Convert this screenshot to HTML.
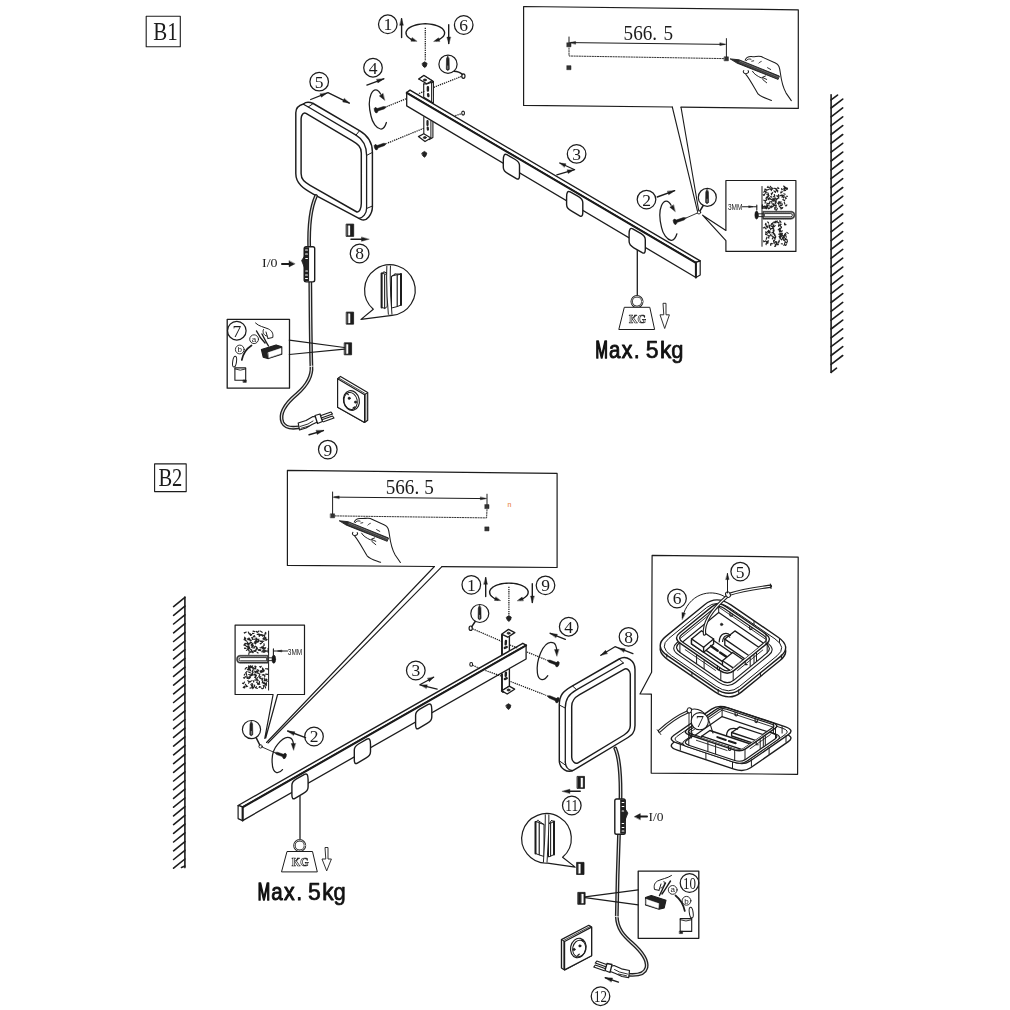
<!DOCTYPE html>
<html><head><meta charset="utf-8"><title>Assembly B1 B2</title>
<style>html,body{margin:0;padding:0;background:#fff;}body{width:1010px;height:1010px;overflow:hidden;font-family:"Liberation Sans",sans-serif;}svg{display:block;}</style>
</head><body>
<svg width="1010" height="1010" viewBox="0 0 1010 1010" stroke-linecap="round" stroke-linejoin="round">
<defs><filter id="gs" filterUnits="userSpaceOnUse" x="0" y="0" width="1010" height="1010"><feColorMatrix type="saturate" values="0"/></filter></defs>
<rect x="0" y="0" width="1010" height="1010" fill="#ffffff"/>
<!-- labels -->
<rect x="146.2" y="16.2" width="34.1" height="30.5" fill="none" stroke="#1c1c1c" stroke-width="1.1"/>
<rect x="154.6" y="463.9" width="31.6" height="27.7" fill="none" stroke="#1c1c1c" stroke-width="1.1"/>
<!-- walls -->
<line x1="831.1" y1="94.7" x2="831.1" y2="372.5" stroke="#1c1c1c" stroke-width="1.6" />
<path d="M831.1 99.9 L837.5 95.1 M831.1 108 L842.7 99.1 M831.1 116.8 L842.7 107.9 M831.1 125.7 L842.7 116.8 M831.1 134.5 L842.7 125.6 M831.1 143.4 L842.7 134.5 M831.1 152.2 L842.7 143.3 M831.1 161 L842.7 152.1 M831.1 169.9 L842.7 161 M831.1 178.7 L842.7 169.8 M831.1 187.6 L842.7 178.7 M831.1 196.4 L842.7 187.5 M831.1 205.2 L842.7 196.3 M831.1 214.1 L842.7 205.2 M831.1 222.9 L842.7 214 M831.1 231.8 L842.7 222.9 M831.1 240.6 L842.7 231.7 M831.1 249.4 L842.7 240.5 M831.1 258.3 L842.7 249.4 M831.1 267.1 L842.7 258.2 M831.1 276 L842.7 267.1 M831.1 284.8 L842.7 275.9 M831.1 293.6 L842.7 284.7 M831.1 302.5 L842.7 293.6 M831.1 311.3 L842.7 302.4 M831.1 320.2 L842.7 311.3 M831.1 329 L842.7 320.1 M831.1 337.8 L842.7 328.9 M831.1 346.7 L842.7 337.8 M831.1 355.5 L842.7 346.6 M831.1 364.4 L842.7 355.5 M831.1 372.3 L836.5 368.2" fill="none" stroke="#1c1c1c" stroke-width="1.6" />
<line x1="184.9" y1="597.1" x2="184.9" y2="867.6" stroke="#1c1c1c" stroke-width="1.6" />
<path d="M184.9 597.4 L173.6 606.6 M184.9 606.1 L173.6 615.3 M184.9 614.8 L173.6 624 M184.9 623.6 L173.6 632.8 M184.9 632.3 L173.6 641.5 M184.9 641 L173.6 650.2 M184.9 649.7 L173.6 658.9 M184.9 658.4 L173.6 667.6 M184.9 667.2 L173.6 676.4 M184.9 675.9 L173.6 685.1 M184.9 684.6 L173.6 693.8 M184.9 693.3 L173.6 702.5 M184.9 702 L173.6 711.2 M184.9 710.8 L173.6 720 M184.9 719.5 L173.6 728.7 M184.9 728.2 L173.6 737.4 M184.9 736.9 L173.6 746.1 M184.9 745.6 L173.6 754.8 M184.9 754.4 L173.6 763.6 M184.9 763.1 L173.6 772.3 M184.9 771.8 L173.6 781 M184.9 780.5 L173.6 789.7 M184.9 789.2 L173.6 798.4 M184.9 798 L173.6 807.2 M184.9 806.7 L173.6 815.9 M184.9 815.4 L173.6 824.6 M184.9 824.1 L173.6 833.3 M184.9 832.8 L173.6 842 M184.9 841.6 L173.6 850.8 M184.9 850.3 L173.6 859.5 M184.9 859 L173.6 868.2 M184.9 866 L181.5 867.4" fill="none" stroke="#1c1c1c" stroke-width="1.6" />
<!-- callout B1 -->
<path d="M672.3 107 L523.6 105.4 L523.6 6.5 L798.3 9.8 L798.3 108.4 L681 107.2" fill="none" stroke="#1c1c1c" stroke-width="1.2" />
<path d="M672.3 107 L697.4 210.9" fill="none" stroke="#1c1c1c" stroke-width="1.1" />
<path d="M681 107.2 L698.6 210" fill="none" stroke="#1c1c1c" stroke-width="1.1" />
<line x1="569" y1="37" x2="569" y2="46" stroke="#1c1c1c" stroke-width="1.0" />
<line x1="726.4" y1="38.6" x2="726.4" y2="57" stroke="#1c1c1c" stroke-width="1.0" />
<line x1="571" y1="42.6" x2="724.4" y2="44.4" stroke="#1c1c1c" stroke-width="1.0" />
<path d="M569.6 42.6 L575.6 41.4 L575.6 44 Z" fill="#1c1c1c" stroke="#1c1c1c" stroke-width="0.4"/>
<path d="M725.8 44.4 L719.8 45.6 L719.8 43 Z" fill="#1c1c1c" stroke="#1c1c1c" stroke-width="0.4"/>
<rect x="567" y="42.8" width="4" height="4" fill="#333" stroke="#1c1c1c" stroke-width="0.5"/>
<rect x="567" y="65.7" width="4" height="4" fill="#333" stroke="#1c1c1c" stroke-width="0.5"/>
<rect x="724.4" y="56.8" width="4" height="4" fill="#333" stroke="#1c1c1c" stroke-width="0.5"/>
<path d="M569 48 L569 56 L724 58.6" fill="none" stroke="#1c1c1c" stroke-width="0.9" stroke-dasharray="1.3 1.3"/>
<!-- callout B2 -->
<path d="M434.4 566.5 L287.4 565.4 L287.4 470.4 L557.1 473.4 L557.1 567.5 L441.9 566.6" fill="none" stroke="#1c1c1c" stroke-width="1.2" />
<path d="M434.4 566.5 L266.5 742.5" fill="none" stroke="#1c1c1c" stroke-width="1.1" />
<path d="M441.9 566.6 L268 743" fill="none" stroke="#1c1c1c" stroke-width="1.1" />
<line x1="332.6" y1="492" x2="332.6" y2="514" stroke="#1c1c1c" stroke-width="1.0" />
<line x1="487" y1="494.2" x2="487" y2="505" stroke="#1c1c1c" stroke-width="1.0" />
<line x1="334.6" y1="497.1" x2="485" y2="498.6" stroke="#1c1c1c" stroke-width="1.0" />
<path d="M333.2 497.1 L339.2 495.9 L339.2 498.5 Z" fill="#1c1c1c" stroke="#1c1c1c" stroke-width="0.4"/>
<path d="M486.4 498.6 L480.4 499.8 L480.4 497.2 Z" fill="#1c1c1c" stroke="#1c1c1c" stroke-width="0.4"/>
<rect x="330.6" y="513.8" width="4" height="4" fill="#333" stroke="#1c1c1c" stroke-width="0.5"/>
<rect x="485" y="504.6" width="4" height="4" fill="#333" stroke="#1c1c1c" stroke-width="0.5"/>
<rect x="485" y="526.9" width="4" height="4" fill="#333" stroke="#1c1c1c" stroke-width="0.5"/>
<path d="M335 515.9 L486.6 517.9 L487 509.5" fill="none" stroke="#1c1c1c" stroke-width="0.9" stroke-dasharray="1.3 1.3"/>
<text x="509.4" y="506.6" font-family="'Liberation Sans', serif" font-size="7" font-weight="normal" text-anchor="middle" fill="#e8732a" >n</text>
<!-- weights -->
<line x1="637.3" y1="250.5" x2="637.3" y2="295.2" stroke="#1c1c1c" stroke-width="1.3" />
<circle cx="637" cy="301.6" r="5.3" fill="none" stroke="#1c1c1c" stroke-width="2.4"/>
<circle cx="637" cy="301.6" r="5.3" fill="none" stroke="#fff" stroke-width="0.7"/>
<path d="M624.7 307.3 L649.8 307.3 L654.6 329.5 L619.2 329.5 Z" fill="#fff" stroke="#1c1c1c" stroke-width="1.0" />
<path d="M663.4 303.3 L666 303.3 L666 314.8 L669.4 314.8 L664.7 328.5 L660 314.8 L663.4 314.8 Z" fill="#fff" stroke="#1c1c1c" stroke-width="0.9" />
<line x1="300" y1="796" x2="300" y2="839.1" stroke="#1c1c1c" stroke-width="1.3" />
<circle cx="299.7" cy="845.5" r="5.3" fill="none" stroke="#1c1c1c" stroke-width="2.4"/>
<circle cx="299.7" cy="845.5" r="5.3" fill="none" stroke="#fff" stroke-width="0.7"/>
<path d="M287.4 851.5 L312.5 851.5 L317.3 871.9 L281.9 871.9 Z" fill="#fff" stroke="#1c1c1c" stroke-width="1.0" />
<path d="M325.4 847.5 L328 847.5 L328 859 L331.4 859 L326.7 870.9 L322 859 L325.4 859 Z" fill="#fff" stroke="#1c1c1c" stroke-width="0.9" />
<!-- lamp B1 -->
<path d="M295.8 173.5 L295.8 112.8 C295.8 108 299 105.2 303.4 104 C305.5 102.2 308.5 101.6 313.2 103.5 L359.5 130.7 C366.5 134.8 372.4 142 372.4 152 L372.4 206.7 C372.4 214 366.5 222.5 360.8 219.4 L313.3 194.1 C303.5 188.8 295.8 183.5 295.8 173.5 Z" fill="#fff" stroke="#1c1c1c" stroke-width="1.45" />
<path d="M303.4 104.2 L308.3 107 L356 135.1 C362 138.6 366.6 146 366.6 155.6 L366.6 208.3 C366.6 213.5 363 218.2 358.8 218.3" fill="none" stroke="#1c1c1c" stroke-width="1.3" />
<line x1="313.2" y1="103.5" x2="308.3" y2="107" stroke="#1c1c1c" stroke-width="1.0" />
<line x1="359.5" y1="130.7" x2="356" y2="135.1" stroke="#1c1c1c" stroke-width="1.0" />
<line x1="366.6" y1="155.4" x2="372.4" y2="152.4" stroke="#1c1c1c" stroke-width="1.0" />
<line x1="366.6" y1="208.5" x2="372.4" y2="206" stroke="#1c1c1c" stroke-width="1.0" />
<path d="M301.1 173.5 L301.1 118.8 C301.1 115.7 303.3 111.7 306 113.3 L352.4 140.9 C357.8 144.1 361.3 146.6 361.3 152.9 L361.3 203.6 C361.3 207.6 359.5 213.5 356 211.5 L310.1 185.3 C304.7 182.2 301.1 179.7 301.1 173.5 Z" fill="none" stroke="#1c1c1c" stroke-width="1.45" />
<!-- lamp B2 -->
<path d="M559.3 760.4 L559.3 705 C559.3 694.6 563.4 691.1 572.5 685.9 L619.2 659 C626.6 654.8 635 660.8 635 669.3 L635 725.5 C635 732.9 631.9 735.2 625.5 739 L574.1 769.9 C567.3 774 559.3 768.3 559.3 760.4 Z" fill="#fff" stroke="#1c1c1c" stroke-width="1.45" />
<path d="M565.3 762 L565.3 708.1 C565.3 699.1 568.6 694.4 576.4 689.9 L623.2 663 " fill="none" stroke="#1c1c1c" stroke-width="1.3" />
<path d="M565.3 762 C565.5 766.5 568 770 572.5 770.6" fill="none" stroke="#1c1c1c" stroke-width="1.3" />
<line x1="559.3" y1="705" x2="565.3" y2="708.1" stroke="#1c1c1c" stroke-width="1.0" />
<line x1="572.5" y1="685.9" x2="576.8" y2="689.9" stroke="#1c1c1c" stroke-width="1.0" />
<line x1="619.2" y1="659" x2="623.5" y2="663" stroke="#1c1c1c" stroke-width="1.0" />
<line x1="559.8" y1="761.2" x2="565.3" y2="765" stroke="#1c1c1c" stroke-width="1.0" />
<path d="M571.7 757.2 L571.7 706.5 C571.7 700.5 574.4 697.7 579.6 694.7 L624 669.3 C626.9 667.6 630.3 670.8 630.3 674.1 L630.3 725.5 C630.3 730.3 628.1 732.5 624 735 L578 762.8 C575 764.6 571.7 760.7 571.7 757.2 Z" fill="none" stroke="#1c1c1c" stroke-width="1.45" />
<!-- bracket B1 -->
<path d="M423.7 83.8 L423.7 97.2 L431.6 102 L433.4 103.2 L433.4 81.4 L431.6 83" fill="#fff" stroke="#1c1c1c" stroke-width="1.1" />
<line x1="431.6" y1="83" x2="431.6" y2="102" stroke="#1c1c1c" stroke-width="1.0" />
<path d="M418.8 79 L423.9 75.4 L432.2 80.8 L433.4 81.8 L426.7 83.9 L423.7 83.8" fill="#fff" stroke="#1c1c1c" stroke-width="1.2" />
<path d="M418.8 79 L423.9 75.4 L432.2 80.8 L426.7 83.8 Z" fill="#fff" stroke="#1c1c1c" stroke-width="1.2" />
<ellipse cx="424.9" cy="80" rx="1.5" ry="1" fill="#333" stroke="#1c1c1c" stroke-width="0.8"/>
<path d="M427.9 87.3 L427.9 90.5 M428.1 94.2 L428.4 96" fill="none" stroke="#222" stroke-width="2.4" />
<path d="M423.8 116.8 L423.8 136.6 L429.3 139.6 L432.9 137.6 L432.9 122.4" fill="#fff" stroke="#1c1c1c" stroke-width="1.1" />
<line x1="430.9" y1="121.2" x2="430.9" y2="138.2" stroke="#1c1c1c" stroke-width="1.0" />
<path d="M418.4 136.6 L423.8 133.7 L430.9 138 L425 141.6 Z" fill="#fff" stroke="#1c1c1c" stroke-width="1.2" />
<ellipse cx="424.8" cy="137.6" rx="1.5" ry="1" fill="#333" stroke="#1c1c1c" stroke-width="0.8"/>
<path d="M427.5 121.2 L427.5 125.1 M427.7 127.7 L427.9 129.7" fill="none" stroke="#222" stroke-width="2.2" />
<!-- bracket B2 -->
<path d="M501.8 635 L501.8 655.7 L509.4 651.9 L509.4 634.5" fill="#fff" stroke="#1c1c1c" stroke-width="1.35" />
<line x1="502.1" y1="635.3" x2="502.1" y2="655.2" stroke="#1c1c1c" stroke-width="1.6" />
<path d="M501.6 634.2 L508.5 629.4 L514.8 632.6 L507.8 637.2 Z" fill="#fff" stroke="#1c1c1c" stroke-width="1.35" />
<ellipse cx="508.6" cy="633.2" rx="1.5" ry="1" fill="#333" stroke="#1c1c1c" stroke-width="0.8"/>
<path d="M505.9 641 L505.7 644.3 M504.8 647.9 L506.7 647" fill="none" stroke="#222" stroke-width="2.4" />
<path d="M501.8 673.7 L501.8 690.8 L509.4 686.2 L509.4 669.3" fill="#fff" stroke="#1c1c1c" stroke-width="1.35" />
<line x1="502.1" y1="674.2" x2="502.1" y2="690.3" stroke="#1c1c1c" stroke-width="1.6" />
<path d="M501.8 690.8 L507.2 694 L514.6 689.2 L509.2 686.2 Z" fill="#fff" stroke="#1c1c1c" stroke-width="1.35" />
<line x1="501.8" y1="690.8" x2="503.1" y2="691.9" stroke="#1c1c1c" stroke-width="2.0" />
<ellipse cx="508.5" cy="690" rx="1.5" ry="1" fill="#333" stroke="#1c1c1c" stroke-width="0.8"/>
<path d="M505.9 672.6 L505.7 675.9 M504.8 679.1 L506.7 678.2" fill="none" stroke="#222" stroke-width="2.4" />
<!-- bar B1 -->
<path d="M406.7 92.5 L695.9 262.5 L695.9 277.5 L406.7 105.9 Z" fill="#fff" stroke="#1c1c1c" stroke-width="1.3" />
<path d="M406.7 92.5 L410 90.1 L700.2 260.9 L695.9 262.5 Z" fill="#fff" stroke="#1c1c1c" stroke-width="1.4" />
<line x1="406.7" y1="92.9" x2="695.9" y2="262.9" stroke="#1c1c1c" stroke-width="2.0" />
<path d="M695.9 262.5 L700.2 260.9 L700.2 275.1 L695.9 277.5 Z" fill="#fff" stroke="#1c1c1c" stroke-width="1.2" />
<line x1="695.9" y1="262.5" x2="695.9" y2="277.5" stroke="#1c1c1c" stroke-width="2.0" />
<!-- bar B2 -->
<path d="M242.6 806.9 L526.1 645.1 L526.1 659 L242.6 820.6 Z" fill="#fff" stroke="#1c1c1c" stroke-width="1.3" />
<path d="M242.6 806.9 L238.1 805.5 L522.8 643.3 L526.1 645.1 Z" fill="#fff" stroke="#1c1c1c" stroke-width="1.4" />
<line x1="242.6" y1="807.3" x2="526.1" y2="645.5" stroke="#1c1c1c" stroke-width="2.0" />
<path d="M242.6 806.9 L238.1 805.5 L238.1 818.6 L242.6 820.6 Z" fill="#fff" stroke="#1c1c1c" stroke-width="1.2" />
<line x1="242.6" y1="806.9" x2="242.6" y2="820.6" stroke="#1c1c1c" stroke-width="2.0" />
<!-- pills -->
<path d="M503.3 160 Q503.3 152.7 506.9 154.7 L515.3 159.5 Q519.5 161.9 519.5 165.6 L519.5 175.4 Q519.5 180.3 516.4 178.6 L508 173.7 Q503.3 171.1 503.3 167.2 Z" fill="#fff" stroke="#1c1c1c" stroke-width="1.4" />
<path d="M566.6 197.2 Q566.6 189.8 570.2 191.9 L578.6 196.7 Q582.8 199.1 582.8 202.8 L582.8 212.6 Q582.8 217.5 579.7 215.8 L571.3 210.9 Q566.6 208.2 566.6 204.4 Z" fill="#fff" stroke="#1c1c1c" stroke-width="1.4" />
<path d="M629.1 234.1 Q629.1 226.8 632.7 228.8 L641.1 233.6 Q645.3 236 645.3 239.7 L645.3 249.5 Q645.3 254.4 642.2 252.7 L633.8 247.8 Q629.1 245.2 629.1 241.3 Z" fill="#fff" stroke="#1c1c1c" stroke-width="1.4" />
<path d="M308.1 779.7 Q308.1 772.4 304.5 774.4 L296.1 779.2 Q291.9 781.7 291.9 785.3 L291.9 795.1 Q291.9 800.1 295 798.3 L303.4 793.4 Q308.1 790.8 308.1 786.9 Z" fill="#fff" stroke="#1c1c1c" stroke-width="1.4" />
<path d="M370.5 744.5 Q370.5 737.1 366.9 739.2 L358.5 744 Q354.3 746.5 354.3 750.1 L354.3 759.9 Q354.3 764.9 357.4 763.1 L365.8 758.2 Q370.5 755.5 370.5 751.7 Z" fill="#fff" stroke="#1c1c1c" stroke-width="1.4" />
<path d="M431.8 709.7 Q431.8 702.4 428.2 704.4 L419.8 709.2 Q415.6 711.7 415.6 715.3 L415.6 725.1 Q415.6 730.1 418.7 728.3 L427.1 723.4 Q431.8 720.8 431.8 716.9 Z" fill="#fff" stroke="#1c1c1c" stroke-width="1.4" />
<path d="M422.3 63.4 L424.7 61.8 L427.1 63.4 L426.3 66.2 L424.7 67.6 L423.1 66.2 Z" fill="#222" stroke="#1c1c1c" stroke-width="0.8" />
<path d="M422 153 L424.4 151.4 L426.8 153 L426 155.8 L424.4 157.2 L422.8 155.8 Z" fill="#222" stroke="#1c1c1c" stroke-width="0.8" />
<path d="M506.5 617.2 L508.9 615.6 L511.3 617.2 L510.5 620 L508.9 621.4 L507.3 620 Z" fill="#222" stroke="#1c1c1c" stroke-width="0.8" />
<path d="M506.1 705.3 L508.5 703.7 L510.9 705.3 L510.1 708.1 L508.5 709.5 L506.9 708.1 Z" fill="#222" stroke="#1c1c1c" stroke-width="0.8" />
<!-- dotted -->
<line x1="425.3" y1="27.7" x2="425.3" y2="61" stroke="#1c1c1c" stroke-width="1.25" stroke-dasharray="1.3 0.9" stroke-linecap="butt"/>
<line x1="508.9" y1="586.7" x2="508.9" y2="615" stroke="#1c1c1c" stroke-width="1.25" stroke-dasharray="1.3 0.9" stroke-linecap="butt"/>
<line x1="461.5" y1="76.4" x2="433.8" y2="87.3" stroke="#1c1c1c" stroke-width="1.25" stroke-dasharray="1.3 0.9" stroke-linecap="butt"/>
<line x1="424.3" y1="91.3" x2="418" y2="94" stroke="#1c1c1c" stroke-width="1.25" stroke-dasharray="1.3 0.9" stroke-linecap="butt"/>
<line x1="406.1" y1="98.8" x2="387" y2="106.5" stroke="#1c1c1c" stroke-width="1.25" stroke-dasharray="1.3 0.9" stroke-linecap="butt"/>
<line x1="460.7" y1="113.9" x2="454.8" y2="115.8" stroke="#1c1c1c" stroke-width="1.25" stroke-dasharray="1.3 0.9" stroke-linecap="butt"/>
<line x1="423.8" y1="128.3" x2="387" y2="143.3" stroke="#1c1c1c" stroke-width="1.25" stroke-dasharray="1.3 0.9" stroke-linecap="butt"/>
<line x1="472.5" y1="628.8" x2="502" y2="641.5" stroke="#1c1c1c" stroke-width="1.25" stroke-dasharray="1.3 0.9" stroke-linecap="butt"/>
<line x1="510" y1="645" x2="518" y2="648.3" stroke="#1c1c1c" stroke-width="1.25" stroke-dasharray="1.3 0.9" stroke-linecap="butt"/>
<line x1="527" y1="652" x2="546" y2="659.8" stroke="#1c1c1c" stroke-width="1.25" stroke-dasharray="1.3 0.9" stroke-linecap="butt"/>
<line x1="472.5" y1="665.2" x2="480" y2="668.5" stroke="#1c1c1c" stroke-width="1.25" stroke-dasharray="1.3 0.9" stroke-linecap="butt"/>
<line x1="485.4" y1="670.5" x2="501" y2="676" stroke="#1c1c1c" stroke-width="1.25" stroke-dasharray="1.3 0.9" stroke-linecap="butt"/>
<line x1="510.5" y1="681.5" x2="546" y2="695.3" stroke="#1c1c1c" stroke-width="1.25" stroke-dasharray="1.3 0.9" stroke-linecap="butt"/>
<ellipse cx="463.4" cy="76.1" rx="1.6" ry="2.3" fill="none" stroke="#1c1c1c" stroke-width="1.2"/>
<ellipse cx="463.1" cy="113.1" rx="1.4" ry="2" fill="none" stroke="#1c1c1c" stroke-width="1.1"/>
<ellipse cx="470.7" cy="628.2" rx="1.6" ry="2.2" fill="none" stroke="#1c1c1c" stroke-width="1.2"/>
<ellipse cx="471.2" cy="664.4" rx="1.4" ry="1.9" fill="none" stroke="#1c1c1c" stroke-width="1.1"/>
<!-- screws -->
<path d="M376.4 111.4 L384.2 108.9 L386.7 106.8 L383.5 106.5 L375.6 109 Z" fill="#1a1a1a" stroke="#1c1c1c" stroke-width="0.5" />
<ellipse cx="376" cy="110.2" rx="1.6" ry="2.8" fill="#1a1a1a" stroke="#1c1c1c" stroke-width="0.6" transform="rotate(-17.6 376 110.2)"/>
<path d="M376.4 148.4 L384.3 145.7 L386.7 143.5 L383.5 143.3 L375.6 146 Z" fill="#1a1a1a" stroke="#1c1c1c" stroke-width="0.5" />
<ellipse cx="376" cy="147.2" rx="1.6" ry="2.8" fill="#1a1a1a" stroke="#1c1c1c" stroke-width="0.6" transform="rotate(-19.1 376 147.2)"/>
<path d="M675.4 223 L684.1 220 L686.5 217.8 L683.3 217.6 L674.6 220.6 Z" fill="#1a1a1a" stroke="#1c1c1c" stroke-width="0.5" />
<ellipse cx="675" cy="221.8" rx="1.6" ry="2.8" fill="#1a1a1a" stroke="#1c1c1c" stroke-width="0.6" transform="rotate(-19.2 675 221.8)"/>
<path d="M557.8 663 L550 660.1 L546.8 660.2 L549.2 662.4 L557 665.4 Z" fill="#1a1a1a" stroke="#1c1c1c" stroke-width="0.5" />
<ellipse cx="557.4" cy="664.2" rx="1.6" ry="2.8" fill="#1a1a1a" stroke="#1c1c1c" stroke-width="0.6" transform="rotate(-159.3 557.4 664.2)"/>
<path d="M557.9 699 L550 695.8 L546.8 695.8 L549.1 698.1 L556.9 701.4 Z" fill="#1a1a1a" stroke="#1c1c1c" stroke-width="0.5" />
<ellipse cx="557.4" cy="700.2" rx="1.6" ry="2.8" fill="#1a1a1a" stroke="#1c1c1c" stroke-width="0.6" transform="rotate(-157.5 557.4 700.2)"/>
<path d="M285 754.8 L277.4 752.2 L274.2 752.4 L276.6 754.6 L284.2 757.2 Z" fill="#1a1a1a" stroke="#1c1c1c" stroke-width="0.5" />
<ellipse cx="284.6" cy="756" rx="1.6" ry="2.8" fill="#1a1a1a" stroke="#1c1c1c" stroke-width="0.6" transform="rotate(-160.9 284.6 756)"/>
<line x1="686.5" y1="217.8" x2="697.5" y2="213" stroke="#1c1c1c" stroke-width="0.9" />
<circle cx="699" cy="212.3" r="1.7" fill="none" stroke="#1c1c1c" stroke-width="0.9"/>
<line x1="274.2" y1="752.4" x2="262" y2="747" stroke="#1c1c1c" stroke-width="0.9" />
<circle cx="260.6" cy="746.4" r="1.7" fill="none" stroke="#1c1c1c" stroke-width="0.9"/>
<!-- plug icons -->
<path d="M453.2 71.2 Q459 71 462.5 74.5" fill="none" stroke="#1c1c1c" stroke-width="1.5" />
<circle cx="448" cy="64.2" r="9.1" fill="#fff" stroke="#1c1c1c" stroke-width="1.2"/>
<path d="M447.6 56.2 L446.5 58.7 L446.3 69.2 Q447.6 71.6 449.3 69.2 L449.1 58.7 Z" fill="#222" stroke="#1c1c1c" stroke-width="0.6" />
<line x1="447.8" y1="66" x2="447.8" y2="68.8" stroke="#aaa" stroke-width="0.8" />
<line x1="703.5" y1="205" x2="700" y2="210.8" stroke="#1c1c1c" stroke-width="1.5" />
<circle cx="707.3" cy="197.4" r="9" fill="#fff" stroke="#1c1c1c" stroke-width="1.2"/>
<path d="M706.9 189.4 L705.8 191.9 L705.6 202.4 Q706.9 204.8 708.6 202.4 L708.4 191.9 Z" fill="#222" stroke="#1c1c1c" stroke-width="0.6" />
<line x1="707.1" y1="199.2" x2="707.1" y2="202" stroke="#aaa" stroke-width="0.8" />
<line x1="475.5" y1="621" x2="471.8" y2="626.6" stroke="#1c1c1c" stroke-width="1.5" />
<circle cx="479.8" cy="613.5" r="9" fill="#fff" stroke="#1c1c1c" stroke-width="1.2"/>
<path d="M479.4 605.5 L478.3 608 L478.1 618.5 Q479.4 620.9 481.1 618.5 L480.9 608 Z" fill="#222" stroke="#1c1c1c" stroke-width="0.6" />
<line x1="479.6" y1="615.3" x2="479.6" y2="618.1" stroke="#aaa" stroke-width="0.8" />
<line x1="256" y1="737.3" x2="259.8" y2="745" stroke="#1c1c1c" stroke-width="1.5" />
<circle cx="251.5" cy="729.6" r="9.1" fill="#fff" stroke="#1c1c1c" stroke-width="1.2"/>
<path d="M251.1 721.6 L250 724.1 L249.8 734.6 Q251.1 737 252.8 734.6 L252.6 724.1 Z" fill="#222" stroke="#1c1c1c" stroke-width="0.6" />
<line x1="251.3" y1="731.4" x2="251.3" y2="734.2" stroke="#aaa" stroke-width="0.8" />
<!-- rotation arcs -->
<path d="M414.2 40.5 L412.3 39.8 L410.6 39 L409.2 38 L408 37 L407 36 L406.4 34.8 L406.1 33.7 L406 32.5 L406.3 31.4 L406.9 30.2 L407.8 29.1 L408.9 28.1 L410.4 27.2 L412 26.3 L413.9 25.6 L415.9 25 L418.1 24.5 L420.5 24.1 L422.9 23.9 L425.3 23.8 L427.7 23.9 L430.1 24.1 L432.5 24.5 L434.7 25 L436.7 25.6 L438.6 26.3 L440.2 27.2 L441.7 28.1 L442.8 29.1 L443.7 30.2 L444.3 31.4 L444.6 32.5 L444.5 33.7 L444.2 34.8 L443.6 36 L442.6 37 L441.4 38 L440 39 L438.3 39.8 L436.4 40.5" fill="none" stroke="#1c1c1c" stroke-width="1.4" />
<path d="M416.7 41.3 L410.9 41.2 L412.1 37.8 Z" fill="#1c1c1c" stroke="#1c1c1c" stroke-width="0.4"/>
<path d="M433.9 41.3 L438.5 37.8 L439.7 41.2 Z" fill="#1c1c1c" stroke="#1c1c1c" stroke-width="0.4"/>
<path d="M497.8 599.8 L495.9 599.1 L494.2 598.3 L492.8 597.3 L491.6 596.3 L490.6 595.3 L490 594.1 L489.7 593 L489.6 591.8 L489.9 590.7 L490.5 589.5 L491.4 588.4 L492.5 587.4 L494 586.5 L495.6 585.6 L497.5 584.9 L499.5 584.3 L501.7 583.8 L504.1 583.4 L506.5 583.2 L508.9 583.1 L511.3 583.2 L513.7 583.4 L516.1 583.8 L518.3 584.3 L520.3 584.9 L522.2 585.6 L523.8 586.5 L525.3 587.4 L526.4 588.4 L527.3 589.5 L527.9 590.7 L528.2 591.8 L528.1 593 L527.8 594.1 L527.2 595.3 L526.2 596.3 L525 597.3 L523.6 598.3 L521.9 599.1 L520 599.8" fill="none" stroke="#1c1c1c" stroke-width="1.4" />
<path d="M500.3 600.6 L494.5 600.5 L495.7 597.1 Z" fill="#1c1c1c" stroke="#1c1c1c" stroke-width="0.4"/>
<path d="M517.5 600.6 L522.1 597.1 L523.3 600.5 Z" fill="#1c1c1c" stroke="#1c1c1c" stroke-width="0.4"/>
<g transform="translate(0 0)">
<path d="M386.4 122.5 C385 127 382.5 129.3 380.5 129 C376.5 128.5 372.5 123 371 116 C369 108 369 99 371 94.3 C372.5 90.8 374 89.8 375.7 89.8 C377.5 89.8 379.2 91.2 380.6 94" fill="none" stroke="#1c1c1c" stroke-width="1.25" />
<path d="M384.6 100.2 L379.3 95.9 L382.9 93.6 Z" fill="#1c1c1c" stroke="#1c1c1c" stroke-width="0.4"/>
</g>
<g transform="translate(290.5 111.3)">
<path d="M386.4 122.5 C385 127 382.5 129.3 380.5 129 C376.5 128.5 372.5 123 371 116 C369 108 369 99 371 94.3 C372.5 90.8 374 89.8 375.7 89.8 C377.5 89.8 379.2 91.2 380.6 94" fill="none" stroke="#1c1c1c" stroke-width="1.25" />
<path d="M384.6 100.2 L379.3 95.9 L382.9 93.6 Z" fill="#1c1c1c" stroke="#1c1c1c" stroke-width="0.4"/>
</g>
<path d="M547.8 675.7 C546 678.5 544 679.8 541.9 679.6 C539.5 679.3 537.8 676.5 537.4 673 C536.8 668 538 659 540.7 652.8 C543.5 646.5 547 642.4 550.8 642.4 C553.5 642.4 555 643.5 555.6 645.1 C556.3 647 556.6 648.5 556.7 650" fill="none" stroke="#1c1c1c" stroke-width="1.25" />
<path d="M556.8 656 L554.5 649.6 L558.7 649.4 Z" fill="#1c1c1c" stroke="#1c1c1c" stroke-width="0.4"/>
<path d="M282.5 769.6 C280.5 772 278.5 773 276.6 772.6 C273.5 772 272 766 272.1 759.2 C272.3 753 274.5 748 277.6 744.4 C281 740.3 284.5 737.4 287.5 737.4 C290.5 737.4 292.3 739 292.9 741.4 C293.3 743 293.4 743.5 293.4 744" fill="none" stroke="#1c1c1c" stroke-width="1.25" />
<path d="M293.5 750 L291.2 743.6 L295.4 743.4 Z" fill="#1c1c1c" stroke="#1c1c1c" stroke-width="0.4"/>
<!-- arrows -->
<line x1="401.6" y1="37.6" x2="401.6" y2="18.8" stroke="#1c1c1c" stroke-width="1.4" />
<path d="M401.6 18.8 L403.4 25.3 L399.8 25.3 Z" fill="#1c1c1c" stroke="#1c1c1c" stroke-width="0.4"/>
<line x1="448.7" y1="24.8" x2="448.7" y2="43.6" stroke="#1c1c1c" stroke-width="1.4" />
<path d="M448.7 43.6 L446.9 37.1 L450.5 37.1 Z" fill="#1c1c1c" stroke="#1c1c1c" stroke-width="0.4"/>
<line x1="485.7" y1="596.6" x2="485.7" y2="577.8" stroke="#1c1c1c" stroke-width="1.4" />
<path d="M485.7 577.8 L487.5 584.3 L483.9 584.3 Z" fill="#1c1c1c" stroke="#1c1c1c" stroke-width="0.4"/>
<line x1="532.3" y1="583.8" x2="532.3" y2="602.6" stroke="#1c1c1c" stroke-width="1.4" />
<path d="M532.3 602.6 L530.5 596.1 L534.1 596.1 Z" fill="#1c1c1c" stroke="#1c1c1c" stroke-width="0.4"/>
<line x1="366.9" y1="85.1" x2="383.8" y2="78.8" stroke="#1c1c1c" stroke-width="1.4" />
<path d="M383.8 78.8 L377.9 82.9 L376.6 79.6 Z" fill="#1c1c1c" stroke="#1c1c1c" stroke-width="0.4"/>
<line x1="657.2" y1="197" x2="674.7" y2="190.7" stroke="#1c1c1c" stroke-width="1.4" />
<path d="M674.7 190.7 L668.7 194.8 L667.5 191.4 Z" fill="#1c1c1c" stroke="#1c1c1c" stroke-width="0.4"/>
<line x1="565.3" y1="639.4" x2="550.2" y2="633.3" stroke="#1c1c1c" stroke-width="1.4" />
<path d="M550.2 633.3 L557.4 634.3 L556 637.6 Z" fill="#1c1c1c" stroke="#1c1c1c" stroke-width="0.4"/>
<line x1="305.5" y1="737.7" x2="287.7" y2="731" stroke="#1c1c1c" stroke-width="1.4" />
<path d="M287.7 731 L294.9 731.8 L293.6 735.2 Z" fill="#1c1c1c" stroke="#1c1c1c" stroke-width="0.4"/>
<path d="M556.8 174.9 L574.7 169.7 L559.8 163" fill="none" stroke="#1c1c1c" stroke-width="1.2" />
<path d="M559.8 163 L566 163.8 L564.5 167.1 Z" fill="#1c1c1c" stroke="#1c1c1c" stroke-width="0.4"/>
<path d="M573.5 170.1 L568.2 173.5 L567.2 170 Z" fill="#1c1c1c" stroke="#1c1c1c" stroke-width="0.4"/>
<path d="M437.2 689.1 L419.8 684.8 L433.7 677.2" fill="none" stroke="#1c1c1c" stroke-width="1.2" />
<path d="M433.7 677.2 L429.3 681.7 L427.6 678.5 Z" fill="#1c1c1c" stroke="#1c1c1c" stroke-width="0.4"/>
<path d="M421 685.1 L427.3 684.8 L426.4 688.3 Z" fill="#1c1c1c" stroke="#1c1c1c" stroke-width="0.4"/>
<path d="M310.7 99.5 L328 92.7 L349.3 103.1" fill="none" stroke="#1c1c1c" stroke-width="1.3" />
<path d="M326.8 93.2 L321.4 97.2 L320.1 93.9 Z" fill="#1c1c1c" stroke="#1c1c1c" stroke-width="0.4"/>
<path d="M349.3 103.1 L342.7 101.9 L344.2 98.6 Z" fill="#1c1c1c" stroke="#1c1c1c" stroke-width="0.4"/>
<path d="M632.9 653.7 L615 646.7 L600.8 655.2" fill="none" stroke="#1c1c1c" stroke-width="1.3" />
<path d="M618.5 648.1 L625.2 648.8 L623.9 652.1 Z" fill="#1c1c1c" stroke="#1c1c1c" stroke-width="0.4"/>
<path d="M600.8 655.2 L605.5 650.3 L607.3 653.4 Z" fill="#1c1c1c" stroke="#1c1c1c" stroke-width="0.4"/>
<!-- cables -->
<path d="M316 196 C311 207 308.5 222 309.2 248" fill="none" stroke="#222" stroke-width="3.8" />
<path d="M316 196 C311 207 308.5 222 309.2 248" fill="none" stroke="#e4e4e4" stroke-width="1.0999999999999996" />
<path d="M310.3 281 C310.5 310 310.6 340 311.4 366 C312.5 378 305 387 297 394 C285 404 279 414 282.5 422.5 C285 427.5 292 428.3 298.5 427.3" fill="none" stroke="#222" stroke-width="3.8" />
<path d="M310.3 281 C310.5 310 310.6 340 311.4 366 C312.5 378 305 387 297 394 C285 404 279 414 282.5 422.5 C285 427.5 292 428.3 298.5 427.3" fill="none" stroke="#e4e4e4" stroke-width="1.0999999999999996" />
<line x1="309.6" y1="366.6" x2="313.4" y2="366" stroke="#fff" stroke-width="0.8" />
<path d="M615.3 748.5 C619.5 758 621 772 620.5 800" fill="none" stroke="#222" stroke-width="3.8" />
<path d="M615.3 748.5 C619.5 758 621 772 620.5 800" fill="none" stroke="#e4e4e4" stroke-width="1.0999999999999996" />
<path d="M619 834 C618 860 617.2 890 616.8 916 C617 929 624 936 632 943 C641 951 648 960 646.5 967.5 C645 973.5 638 975.5 629 974.8" fill="none" stroke="#222" stroke-width="3.8" />
<path d="M619 834 C618 860 617.2 890 616.8 916 C617 929 624 936 632 943 C641 951 648 960 646.5 967.5 C645 973.5 638 975.5 629 974.8" fill="none" stroke="#e4e4e4" stroke-width="1.0999999999999996" />
<line x1="614.8" y1="916.3" x2="618.8" y2="916.9" stroke="#fff" stroke-width="0.8" />
<!-- switches -->
<rect x="304.3" y="246.7" width="10.4" height="35.2" rx="1.8" fill="#fff" stroke="#1c1c1c" stroke-width="1.4"/>
<path d="M304.6 247.6 L308.5 247.6 L308.5 281 L304.6 281 Z" fill="#222" stroke="#1c1c1c" stroke-width="0.6" />
<path d="M304.6 256 L301.6 260.5 L304.6 268 Z" fill="#222" stroke="#1c1c1c" stroke-width="0.8" />
<path d="M305.6 250 l1.8 0 M305.6 254 l1.8 0 M305.8 258.5 l1.6 0 M305.8 271 l1.6 0 M305.6 275 l1.8 0 M305.6 278.5 l1.8 0" fill="none" stroke="#fff" stroke-width="1.2" />
<line x1="308.6" y1="248" x2="308.6" y2="281" stroke="#1c1c1c" stroke-width="1.0" />
<rect x="614.8" y="799" width="10.4" height="35.2" rx="1.8" fill="#fff" stroke="#1c1c1c" stroke-width="1.4"/>
<path d="M621 799.9 L624.9 799.9 L624.9 833.3 L621 833.3 Z" fill="#222" stroke="#1c1c1c" stroke-width="0.6" />
<path d="M624.9 808.5 L627.9 813 L624.9 820.5 Z" fill="#222" stroke="#1c1c1c" stroke-width="0.8" />
<path d="M622 802.5 l1.8 0 M622 806.5 l1.8 0 M622 811 l1.6 0 M622 823.5 l1.6 0 M622 827.5 l1.8 0 M622 831 l1.8 0" fill="none" stroke="#fff" stroke-width="1.2" />
<line x1="620.9" y1="800" x2="620.9" y2="833" stroke="#1c1c1c" stroke-width="1.0" />
<line x1="282" y1="263.9" x2="290" y2="263.9" stroke="#1c1c1c" stroke-width="2.0" />
<path d="M294.8 263.9 L289 266.9 L289 260.9 Z" fill="#1c1c1c" stroke="#1c1c1c" stroke-width="0.4"/>
<line x1="647" y1="816.6" x2="639" y2="816.6" stroke="#1c1c1c" stroke-width="2.0" />
<path d="M634.5 816.6 L640.3 813.6 L640.3 819.6 Z" fill="#1c1c1c" stroke="#1c1c1c" stroke-width="0.4"/>
<!-- clips -->
<rect x="346.5" y="224.1" width="7.2" height="12.3" fill="#1c1c1c" stroke="#1c1c1c" stroke-width="0.8"/>
<rect x="348.2" y="225.7" width="1.8" height="9.5" fill="#fff" stroke="#fff" stroke-width="0.3"/>
<rect x="346.6" y="312.1" width="7" height="12.1" fill="#1c1c1c" stroke="#1c1c1c" stroke-width="0.8"/>
<rect x="348.3" y="313.7" width="1.8" height="9.3" fill="#fff" stroke="#fff" stroke-width="0.3"/>
<rect x="344.6" y="342.8" width="7" height="12" fill="#1c1c1c" stroke="#1c1c1c" stroke-width="0.8"/>
<rect x="346.3" y="344.4" width="1.8" height="9.2" fill="#fff" stroke="#fff" stroke-width="0.3"/>
<rect x="577.4" y="776.4" width="7.1" height="12" fill="#1c1c1c" stroke="#1c1c1c" stroke-width="0.8"/>
<rect x="581" y="778" width="1.8" height="9.2" fill="#fff" stroke="#fff" stroke-width="0.3"/>
<rect x="576.9" y="862.4" width="7.1" height="12.1" fill="#1c1c1c" stroke="#1c1c1c" stroke-width="0.8"/>
<rect x="578.6" y="864" width="1.8" height="9.3" fill="#fff" stroke="#fff" stroke-width="0.3"/>
<rect x="578.1" y="892.4" width="7" height="11.9" fill="#1c1c1c" stroke="#1c1c1c" stroke-width="0.8"/>
<rect x="581.6" y="894" width="1.8" height="9.1" fill="#fff" stroke="#fff" stroke-width="0.3"/>
<line x1="351" y1="239.2" x2="362" y2="239.2" stroke="#1c1c1c" stroke-width="1.5" />
<path d="M368.9 239.3 L361.5 241.3 L361.5 237.3 Z" fill="#1c1c1c" stroke="#1c1c1c" stroke-width="0.4"/>
<line x1="580.2" y1="791.2" x2="569" y2="791.2" stroke="#1c1c1c" stroke-width="1.5" />
<path d="M562.3 791.2 L569.9 789.2 L569.9 793.2 Z" fill="#1c1c1c" stroke="#1c1c1c" stroke-width="0.4"/>
<!-- balloons -->
<path d="M373.3 309.2 A25.3 25.3 0 1 1 392.1 315.3 L361 319.4 Z" fill="#fff" stroke="#1c1c1c" stroke-width="1.2" />
<clipPath id="bal1"><circle cx="389.9" cy="290.1" r="24.7"/></clipPath><g clip-path="url(#bal1)">
<path d="M381.6 273.5 L381.6 307.5 L385 308.3 L385 274.5 Z" fill="#fff" stroke="#1c1c1c" stroke-width="1.0" />
<path d="M385 274.5 L387.2 273 L387.2 306.5 L385 308.3 Z" fill="#fff" stroke="#1c1c1c" stroke-width="1.0" />
<path d="M391.5 276.5 L391.5 308 L397.5 306.5 L397.5 275 Z" fill="#fff" stroke="#1c1c1c" stroke-width="1.0" />
<path d="M397.5 275 L401 274 L401 305 L397.5 306.5 Z" fill="#fff" stroke="#1c1c1c" stroke-width="1.0" />
<line x1="381.6" y1="273.5" x2="384" y2="272" stroke="#1c1c1c" stroke-width="1.0" />
<line x1="384" y1="272" x2="387.2" y2="273" stroke="#1c1c1c" stroke-width="1.0" />
<line x1="391.5" y1="276.5" x2="395" y2="274" stroke="#1c1c1c" stroke-width="1.0" />
<line x1="395" y1="274" x2="401" y2="274" stroke="#1c1c1c" stroke-width="1.0" />
<line x1="381.6" y1="273.5" x2="381.6" y2="307.5" stroke="#1c1c1c" stroke-width="2.0" />
<line x1="401" y1="274" x2="401" y2="305" stroke="#1c1c1c" stroke-width="2.0" />
<path d="M388.8 262 C388 280 388.5 298 390.5 318" fill="none" stroke="#222" stroke-width="4.6" />
<path d="M388.8 262 C388 280 388.5 298 390.5 318" fill="none" stroke="#fff" stroke-width="2.6" />
</g>
<path d="M547.5 863.2 A24.8 24.8 0 1 1 562.6 857.3 L575.2 867.1 Z" fill="#fff" stroke="#1c1c1c" stroke-width="1.2" />
<clipPath id="bal2"><circle cx="546.5" cy="838.4" r="24.2"/></clipPath><g clip-path="url(#bal2)">
<path d="M535.5 822 L535.5 853.5 L539.5 855 L539.5 823 Z" fill="#fff" stroke="#1c1c1c" stroke-width="1.0" />
<path d="M539.5 823 L544 824.5 L544 856.5 L539.5 855 Z" fill="#fff" stroke="#1c1c1c" stroke-width="1.0" />
<path d="M548.5 824.5 L548.5 857 L551 856 L551 823 Z" fill="#fff" stroke="#1c1c1c" stroke-width="1.0" />
<path d="M551 823 L554 821.5 L554 854.5 L551 856 Z" fill="#fff" stroke="#1c1c1c" stroke-width="1.0" />
<line x1="535.5" y1="822" x2="538" y2="820.5" stroke="#1c1c1c" stroke-width="1.0" />
<line x1="538" y1="820.5" x2="544" y2="824.5" stroke="#1c1c1c" stroke-width="1.0" />
<line x1="548.5" y1="824.5" x2="551.5" y2="820.5" stroke="#1c1c1c" stroke-width="1.0" />
<line x1="551.5" y1="820.5" x2="554" y2="821.5" stroke="#1c1c1c" stroke-width="1.0" />
<line x1="535.5" y1="822" x2="535.5" y2="853.5" stroke="#1c1c1c" stroke-width="2.0" />
<line x1="554" y1="821.5" x2="554" y2="854.5" stroke="#1c1c1c" stroke-width="2.0" />
<path d="M547 812 C547.5 830 546 848 545 866" fill="none" stroke="#222" stroke-width="4.6" />
<path d="M547 812 C547.5 830 546 848 545 866" fill="none" stroke="#fff" stroke-width="2.6" />
</g>
<!-- box 7 / 10 -->
<rect x="227.2" y="319.3" width="62.3" height="68.9" fill="#fff" stroke="#1c1c1c" stroke-width="1.3"/>
<line x1="289.3" y1="340.2" x2="344.4" y2="347.5" stroke="#1c1c1c" stroke-width="1.2" />
<line x1="289.3" y1="354.5" x2="344.4" y2="349.2" stroke="#1c1c1c" stroke-width="1.2" />
<circle cx="254.1" cy="339.2" r="4.4" fill="none" stroke="#1c1c1c" stroke-width="0.9"/>
<circle cx="239.8" cy="349.5" r="4.4" fill="none" stroke="#1c1c1c" stroke-width="0.9"/>
<path d="M261.4 349.5 L276.1 344.9 L281.8 346.7 L281.8 354.2 L268.4 358.6 L263.2 357.2 Z" fill="#222" stroke="#1c1c1c" stroke-width="1.1" />
<path d="M268.3 352.6 L281 348.3 L281 353.6 L269 357.6 Z" fill="#fff" stroke="#fff" stroke-width="0.5" />
<path d="M256.5 331 C259 336 262 340 265 343 M262 334 C264 338 266 342 268.5 346" fill="none" stroke="#1c1c1c" stroke-width="1.4" />
<path d="M255.5 323 C259 326.5 264 327 268.5 329 C271.5 330.5 273.5 333 272.8 337.5 L268 338.5 M266 332 L268 338.5 M263.5 329.5 C262 332 264 335.5 266.5 336" fill="none" stroke="#1c1c1c" stroke-width="1.0" />
<path d="M251.5 345.5 C246 349 243 354 241.8 360" fill="none" stroke="#1c1c1c" stroke-width="1.7" />
<ellipse cx="234.6" cy="361.6" rx="1.9" ry="5.4" fill="#fff" stroke="#1c1c1c" stroke-width="1.0" transform="rotate(8 234.6 361.6)"/>
<rect x="234.9" y="367.9" width="10.8" height="12.3" fill="#fff" stroke="#1c1c1c" stroke-width="1.1"/>
<path d="M234.9 369 Q240.3 371.5 245.7 369" fill="none" stroke="#1c1c1c" stroke-width="0.9" />
<rect x="243.3" y="380" width="3" height="2.4" fill="#222" stroke="#1c1c1c" stroke-width="0.5"/>
<rect x="638.2" y="871.1" width="60.6" height="67.2" fill="#fff" stroke="#1c1c1c" stroke-width="1.3"/>
<line x1="585.1" y1="896.8" x2="638.2" y2="889.9" stroke="#1c1c1c" stroke-width="1.2" />
<line x1="585.1" y1="897.6" x2="638.2" y2="904.8" stroke="#1c1c1c" stroke-width="1.2" />
<circle cx="672.7" cy="889.9" r="4.4" fill="none" stroke="#1c1c1c" stroke-width="0.9"/>
<circle cx="686.5" cy="900.8" r="4.4" fill="none" stroke="#1c1c1c" stroke-width="0.9"/>
<path d="M645.5 897.6 L651.3 895.6 L666 900.2 L664.2 907.9 L659 909.3 L645.5 905 Z" fill="#222" stroke="#1c1c1c" stroke-width="1.1" />
<path d="M646.3 899.3 L658.8 903.6 L658.3 908.3 L646.3 904.3 Z" fill="#fff" stroke="#fff" stroke-width="0.5" />
<path d="M670.5 881 C667.5 885.5 665 890 662 894 M665.5 883 C663.5 887 661.5 891.5 659.5 895.5" fill="none" stroke="#1c1c1c" stroke-width="1.4" />
<path d="M671.5 875.5 C667 878.5 662 878.8 657.5 881 C655 882.5 653.5 885 654.5 889.5 L659 890.3 M661 884 L659 890.3 M664 881.5 C665.5 884 663.5 887.5 661 888" fill="none" stroke="#1c1c1c" stroke-width="1.0" />
<path d="M675.5 895.5 C680.5 899.5 683.5 905 684.8 911" fill="none" stroke="#1c1c1c" stroke-width="1.7" />
<ellipse cx="691.2" cy="912.6" rx="1.9" ry="5.4" fill="#fff" stroke="#1c1c1c" stroke-width="1.0" transform="rotate(-8 691.2 912.6)"/>
<rect x="680.2" y="918.6" width="11.5" height="12.8" fill="#fff" stroke="#1c1c1c" stroke-width="1.1"/>
<path d="M680.2 919.8 Q686 922.3 691.7 919.8" fill="none" stroke="#1c1c1c" stroke-width="0.9" />
<rect x="679.6" y="931.2" width="3" height="2.4" fill="#222" stroke="#1c1c1c" stroke-width="0.5"/>
<!-- sockets -->
<path d="M337.6 378.8 L340.5 376.4 L367.7 392.6 L367.7 420.3 L364.6 422.5 L337.6 407.3 Z" fill="#fff" stroke="#1c1c1c" stroke-width="1.2" />
<path d="M337.6 378.8 L364.6 394.7 L364.6 422.5 L337.6 407.3 Z" fill="#fff" stroke="#1c1c1c" stroke-width="1.2" />
<line x1="364.6" y1="394.7" x2="367.7" y2="392.6" stroke="#1c1c1c" stroke-width="1.0" />
<path d="M338.7 378 L365.8 393.9 L365.8 421.4" fill="none" stroke="#1c1c1c" stroke-width="0.8" />
<ellipse cx="351.4" cy="400.5" rx="7.9" ry="10" fill="none" stroke="#1c1c1c" stroke-width="1.2" transform="rotate(-12 351.4 400.5)"/>
<ellipse cx="350.6" cy="401" rx="6.6" ry="8.6" fill="none" stroke="#1c1c1c" stroke-width="1.0" transform="rotate(-12 350.6 401)"/>
<circle cx="349.2" cy="398.3" r="1.2" fill="#222" stroke="#1c1c1c" stroke-width="0.5"/>
<circle cx="355.5" cy="402.1" r="1.2" fill="#222" stroke="#1c1c1c" stroke-width="0.5"/>
<path d="M346.8 393.1 l1.5 1.5 M353.1 408.1 l1.5 -1.2" fill="none" stroke="#1c1c1c" stroke-width="1.3" />
<path d="M561.4 939.6 L588.8 925.3 L591.6 927.1 L591.6 955.8 L564.6 969.9 L561.4 968.1 Z" fill="#fff" stroke="#1c1c1c" stroke-width="1.2" />
<path d="M564.6 941.5 L591.6 927.1 L591.6 955.8 L564.6 969.9 Z" fill="#fff" stroke="#1c1c1c" stroke-width="1.2" />
<line x1="561.4" y1="939.6" x2="564.6" y2="941.5" stroke="#1c1c1c" stroke-width="1.0" />
<path d="M563.3 968.9 L563.3 940.6 L590.4 926.3" fill="none" stroke="#1c1c1c" stroke-width="0.8" />
<ellipse cx="578.3" cy="948" rx="7.7" ry="9.8" fill="none" stroke="#1c1c1c" stroke-width="1.2" transform="rotate(12 578.3 948)"/>
<ellipse cx="579.1" cy="948.5" rx="6.4" ry="8.4" fill="none" stroke="#1c1c1c" stroke-width="1.0" transform="rotate(12 579.1 948.5)"/>
<circle cx="574.1" cy="949.4" r="1.2" fill="#222" stroke="#1c1c1c" stroke-width="0.5"/>
<circle cx="579.9" cy="945.9" r="1.2" fill="#222" stroke="#1c1c1c" stroke-width="0.5"/>
<path d="M577.7 955.4 l1.5 -1.2 M583.1 941.2 l-1.5 -1.2" fill="none" stroke="#1c1c1c" stroke-width="1.3" />
<!-- plugs -->
<path d="M298.2 423 L306 420.5 L313 416.5 L317 417 L318.5 421.5 L312 424.5 L306 428 L299.5 430 Z" fill="#fff" stroke="#1c1c1c" stroke-width="1.2" />
<path d="M300 426.5 L308 424 L313 421" fill="none" stroke="#1c1c1c" stroke-width="0.9" />
<path d="M301 428.3 L309 426" fill="none" stroke="#1c1c1c" stroke-width="0.9" />
<path d="M315 415.5 L320 414 L322.5 421.5 L317.5 423.5 Z" fill="#fff" stroke="#1c1c1c" stroke-width="1.3" />
<path d="M321 415.5 L331 412 L332.5 414 L322 417.8 M322.5 419.5 L332.5 416 L334 418 L323.5 421.8" fill="none" stroke="#1c1c1c" stroke-width="1.2" />
<line x1="309.1" y1="434.7" x2="323.4" y2="430.6" stroke="#1c1c1c" stroke-width="1.5" />
<path d="M323.4 430.6 L317.2 434.5 L316.1 430.6 Z" fill="#1c1c1c" stroke="#1c1c1c" stroke-width="0.4"/>
<path d="M629.5 970.5 L621.5 968.8 L614 965.5 L610 966.5 L609 971 L615.5 973.5 L622 976.5 L628.7 977.6 Z" fill="#fff" stroke="#1c1c1c" stroke-width="1.2" />
<path d="M627.5 974 L619.5 972 L614.5 969.5" fill="none" stroke="#1c1c1c" stroke-width="0.9" />
<path d="M626.5 975.8 L618.5 974" fill="none" stroke="#1c1c1c" stroke-width="0.9" />
<path d="M612 964.5 L607 963.5 L605 970.5 L610 972.5 Z" fill="#fff" stroke="#1c1c1c" stroke-width="1.3" />
<path d="M606.5 964.5 L596.8 961 L595.3 963 L605.8 966.8 M605 968.5 L595.3 965 L593.8 967 L604.3 970.8" fill="none" stroke="#1c1c1c" stroke-width="1.2" />
<line x1="618.4" y1="982.1" x2="605.3" y2="977.7" stroke="#1c1c1c" stroke-width="1.5" />
<path d="M605.3 977.7 L612.6 978 L611.3 981.8 Z" fill="#1c1c1c" stroke="#1c1c1c" stroke-width="0.4"/>
<!-- 3MM boxes -->
<path d="M725.9 230.4 L725.9 180.5 L795.9 180.5 L795.9 251.4 L725.9 251.4 L725.9 240.7 L702.6 215.2 L725.9 230.4" fill="#fff" stroke="#1c1c1c" stroke-width="1.2" />
<line x1="762" y1="186.5" x2="762" y2="246.3" stroke="#1c1c1c" stroke-width="1.0" />
<path d="M774.7 198.6 l-1.4 0.3 M777.7 190.2 l-0.1 1.7 M766.6 192.8 l1.9 0.5 M765.4 208.1 l-1.7 0.2 M768 186.3 l-0.1 0.9 l-0.6 0.2 M774.9 195.9 l-1.3 0.7 M775.7 200.9 l0.2 1.2 M786.9 204.9 l-0.8 1 l-0.7 -0.2 M781.7 195 l-1.2 0.6 M783.6 186 l1.6 1.3 l-0.9 0.5 M766.1 200.2 l-0.9 0.8 l-1.4 -0.8 M781.6 188.7 l0.7 0.7 l-0.6 0.4 M777.1 196.1 l1.5 1 l-0.4 0.6 M774 190.8 l1.4 1.6 M771.3 205.9 l1.1 0.8 M778.9 188.3 l-1.1 0 l0.1 -0.9 M771.2 187.7 l1.6 0.5 l-0.2 0.9 M774.7 207.6 l0.1 1.6 M768.6 189.5 l-1.9 0.6 l-1 -0.9 M785.7 190.4 l-2 0.3 M774 188.3 l2.1 0.3 l-0.2 0.8 M783 199.4 l0.6 0.8 M766 191.1 l-0.4 2 M770.8 206.6 l0.7 0.5 l-0.3 0.6 M768.5 194.3 l-0.2 1 l-1.4 -0.8 M779.3 201.6 l-0.3 1 l-1.3 0.7 M780.3 207.7 l1.7 0.1 l-0.2 0.9 M787 187.7 l-0.3 1.8 M781.1 201.8 l-1.7 1.3 l-0.8 -1.2 M784.1 195.4 l-1.6 1.2 M778.6 194.6 l-0.4 1.6 l-1.5 -0.4 M784.3 202.4 l0.6 1.7 M774.4 204.9 l1.8 0.5 l-0.2 1.1 M769.7 201.7 l0 1.7 M770.3 186.3 l1 1.4 l-0.6 1.4 M779.3 195.9 l-1.2 0.4 M769 195.7 l-1.7 1.2 M773.1 199.1 l0.5 0.8 l-1.4 0.5 M780.5 207.4 l0.7 0.8 l-0.3 0.7 M773.8 200.1 l0 1.2 M786.6 196.2 l0.8 0.2 M765.4 201.9 l-0.3 1.2 M764.9 189.1 l0.1 0.8 M769.8 189.2 l1.7 0.2 l-0.2 1.2 M782.7 207.6 l-0.6 0.9 l-0.6 -0 M775.1 202.1 l1 0.6 l-0.7 0.9 M778.3 203 l0.6 1.8 M766.5 207 l-0.6 0.8 l-1.2 -0.9 M773 198.8 l-1.8 0.7 M774.9 200.7 l1.4 1.1 M778.9 202.1 l1.6 1.3 M786.5 198.1 l-1 0.8 M783.8 193.8 l1.4 0.4 M781.8 197 l1.9 0.2 l-0.2 0.7 M772 203.7 l0.9 0.4 M780.8 204.9 l-1.2 1.8 l-0.4 -0.6 M769.5 197.8 l1.1 1.4 M776.3 205 l-0.2 1.2 l-1.4 -0.6 M769.2 205.1 l-1.5 0.2 M769 198.1 l-0 1.6 l-1 -0.4 M773.5 204 l-0.3 1.5 M766 198.1 l0.6 2.1 M770.6 196.6 l1.3 0.5 M784.8 196.7 l0.6 0.9 M785.3 188.9 l-0.6 0.5 l-1.2 -0.5 M771.7 194 l-0.3 0.9 M767.3 197.5 l0.8 0.8 M774.3 194.5 l0.4 1.5 l-0.9 0.9 M778.9 197.9 l-1.5 0.7 M769.7 202.7 l-1.7 1.2 l-1.3 -0.8 M769.4 208.5 l-0.9 0.3 l-0.2 -0.8 M766.7 204.7 l0.5 1.8 l-1.1 0.7 M764.9 190.5 l-1.1 1.7 M767.1 197.4 l-1.1 1 M768.8 187.6 l0.8 0.3 M776.1 198.8 l0.9 0.5 l-1 1.2 M785.4 188.1 l2.1 0.4 l-0.3 0.9 M775 197.6 l0.4 1.6 l-1.4 0.2 M768.6 196.2 l-0.9 1 l-1.1 -0.2 M764.8 206.1 l-1.5 1 M778.7 195.1 l-0.5 1.4 M782.6 191.8 l-1.8 0.5 M782.8 195.1 l-1.9 0.6 M781.8 203.2 l0.5 1.7 l-0.8 0.7 M764.7 194 l-0.7 1.5 l-0.9 -0.9 M772.1 200.8 l-0.3 1.5 l-1 -0.7 M780.3 203.1 l-0.8 0.1 M781.1 191.8 l0.3 0.8 l-0.6 0.4 M770.1 206.4 l-0.2 1.5 M777.3 208.4 l-0.8 1.8 l-1.3 -0.5 M765.5 206.9 l1.3 0.7 l-0.4 1.1 M765.8 207.3 l0.4 1.5 M772.7 192.4 l-0.7 1.4 l-0.8 -0.5 M764.8 191.5 l1 0.1 M773.3 206.2 l-0.6 0.6 M785.8 187.7 l-1.3 0.4 l0.1 -0.8 M776.3 207.1 l-0.9 1.1 M782.9 199.6 l1.6 0.6 l0.1 0.6 M776.4 188.8 l0.3 1.7 l-1 0.7 M773.9 203.5 l-0.2 2.2 " fill="none" stroke="#222" stroke-width="1.15" />
<path d="M775.2 236.6 l-0.5 0.9 l-0.9 -0.2 M782.7 237.4 l-0.5 1.5 M767.8 231.3 l1.8 1 l-0.4 0.5 M780 228.8 l0.6 1.9 l-0.8 1.3 M776 222.7 l-2.1 0.1 l-0.2 -0.7 M771.5 235.7 l1.5 0.9 l0.1 1.4 M773.5 230.8 l-0.4 1.4 l-1.2 0.6 M786.3 244.4 l-0.6 1.1 l-1.1 -0.7 M767.1 226.3 l0.6 1.4 M775.8 221.2 l-1.2 0.7 M769.5 231 l0.6 1.8 l-0.7 0.3 M780.2 221.4 l0.8 1 M765.7 231.8 l0.9 0.7 l-0.9 0.6 M786 224.6 l-1.3 0.3 l-0.2 -1.5 M764.7 227.1 l-1 0.8 l-0.6 -0.1 M778.4 244.6 l-1.5 0 l-0.5 -1.3 M783.2 236.2 l1.2 1 l-0.6 0.7 M785.8 242.4 l1.1 0.6 M770.8 243.6 l-0.1 1.8 M769.3 227.5 l1.2 1.3 M767.5 242.2 l0.3 1.1 l-1.1 -0.2 M778.6 243 l-1.9 0.2 l-0.3 -1.5 M782.3 234.7 l0.6 1.2 M777.2 220.9 l-1.3 1.6 M784.7 242.8 l-0.2 1.9 l-0.8 0.5 M771.5 243.4 l-0.9 1.3 M767.3 233.6 l-0.8 1.1 l-0.9 -0.3 M779.9 224 l1.2 0.3 M781.6 236.7 l-1.3 0.3 l-0.4 -1 M768.5 236.9 l0.5 1 l-0.6 0.1 M772.6 227.4 l1.1 0.8 l-0.9 0.6 M780.2 224.5 l0.2 1.6 M770.1 231.8 l-1.8 0.9 l-0.7 -1.1 M773.4 237 l-1.1 1.9 M779.8 229.1 l-0.8 0.9 l-0.8 -0.3 M767.6 226 l-0.2 1.1 l-0.8 -0.3 M785.6 235.2 l0.7 1.9 M771.7 223.6 l-0.8 1.8 M782.1 230.6 l-0.4 1.1 l-1 -0.1 M773.5 240.3 l0.9 0.6 l-0.9 0.7 M765.7 241 l-1.8 0.8 l-0.3 -0.9 M767.6 241.7 l-0.9 0.5 M765.1 228.1 l1 0 l-0.1 0.9 M768.8 225 l1.1 1.7 M766.8 237.3 l-0.2 1.4 M779.2 240.1 l-0 1.7 l-1 -0 M773.8 233.2 l-0.7 0.9 M775.6 241.5 l-1.2 1.8 M774.1 230.4 l-0.6 1.8 M767.4 222 l0.9 0.3 l0.3 0.8 M767 237.3 l-0.8 2 M781.3 243.8 l1.1 0.1 M775.2 225.6 l-1 1 M771.6 226.4 l1.6 0.4 M786.7 239.2 l-1.3 0.3 l0.2 -1.2 M779.6 220.8 l1.1 1 M783.1 239.1 l0.6 1.2 M786.8 232.4 l1.4 1 M772.6 226.1 l0.6 1.6 l-1.4 0.7 M781.3 226.7 l0.2 0.9 M778.7 224.7 l-0.2 1.6 M773 228.1 l1 2 l-0.9 0.6 M768.4 230.3 l1 0.8 l-0.4 1.5 M771.2 228.6 l-0.6 1.2 M779.1 222.3 l-0.5 0.8 l-1.2 -1.1 M779.7 224.7 l0.2 1.2 M769.7 225.3 l-0.7 1.5 M775.3 244 l0.3 2.1 l-0.9 0.3 M780.6 238.9 l1.1 1 M775.8 236.7 l-0.6 1.7 l-0.6 0 M784.5 239.9 l0.7 2 M767.9 241 l0.3 1.2 l-0.6 0.3 M765.6 223.4 l0.6 0.8 l-0.9 0.4 M775.5 235.2 l-1 0.2 l0.1 -1.5 M785.5 233.4 l0.4 1 M781.7 234 l-0.9 0.7 M784.9 223.2 l-0.4 1 M783.4 236.3 l0.2 0.8 l-0.9 0.5 M766.2 243 l-0.1 1.6 M784.7 234 l-0.3 2 l-0.6 -0.3 M782.4 233.4 l-0.8 2 l-1.4 -0.1 M781.3 233.3 l-1.3 1.1 M779.1 229.4 l0.6 0.7 l-0.3 1.5 M767.7 235.3 l2 0.9 M768.5 240.8 l-2 0.9 l-0.8 -0.9 M770.9 234.4 l-1.1 1.5 M781.4 227.5 l-1 1 l-1.2 -0.1 M772.6 222.8 l0 1.4 l-1.1 0.1 M776.4 244.7 l-1.2 0.4 M771.6 243.5 l1.2 0.2 M779.4 237.8 l0.8 0.6 M766 224.8 l0.4 1.9 M787 239.6 l0.4 2 l-1 1.2 M784.3 236.7 l0.1 1.1 l-0.5 0.5 M775.3 242.5 l-1.5 0.3 M775 239.5 l-1.3 1.7 M779.8 235 l1.3 0.7 l0 0.8 M773.8 224.8 l-0.5 1.2 M779.9 233.2 l0.3 1.3 l-1.5 -0.3 M779.1 236.4 l1.4 0.7 l-0.1 1.2 " fill="none" stroke="#222" stroke-width="1.15" />
<path d="M763.2 211.8 L790.9 211.8 A3.4 3.4 0 0 1 790.9 218.6 L763.2 218.6 Z" fill="#fff" stroke="#1c1c1c" stroke-width="1.1" />
<path d="M763.2 211.8 L790.9 211.8 A3.4 3.4 0 0 1 790.9 218.6 L763.2 218.6 Z" fill="none" stroke="#444" stroke-width="2.2" stroke-dasharray="0.9 0.9" opacity="0.55"/>
<path d="M764.7 213.6 L790.8 213.6 A1.6 1.6 0 0 1 790.8 216.8 L764.7 216.8 Z" fill="#fff" stroke="#1c1c1c" stroke-width="0.9" />
<path d="M757.3 213.8 L763 213.8 M757.3 216.6 L763 216.6" fill="none" stroke="#1c1c1c" stroke-width="0.9" />
<ellipse cx="756.6" cy="215.1" rx="1.7" ry="4" fill="#1a1a1a" stroke="#1c1c1c" stroke-width="0.6"/>
<line x1="742.4" y1="206.7" x2="756.6" y2="206.7" stroke="#1c1c1c" stroke-width="1.1" />
<line x1="756.8" y1="205.1" x2="756.8" y2="210" stroke="#1c1c1c" stroke-width="1.1" />
<line x1="762.4" y1="205" x2="762.4" y2="208.4" stroke="#1c1c1c" stroke-width="1.4" />
<path d="M749 205.9 L753 206.7 L749 207.5 Z M763 206.7 L768 205.6 L768 207.8 Z" fill="#222" stroke="#1c1c1c" stroke-width="0.6" />
<path d="M273.1 694.5 L235.1 694.5 L235.1 625.1 L304.5 625.1 L304.5 694.5 L277.6 694.5 L265.7 738 M273.1 694.5 L264.8 738.4" fill="none" stroke="#1c1c1c" stroke-width="1.2" />
<line x1="268.6" y1="631.1" x2="268.6" y2="690.1" stroke="#1c1c1c" stroke-width="1.0" />
<path d="M248.1 645.7 l-0.6 1.3 l-1.2 -0.8 M255.8 641.6 l0.6 0.5 l-0.4 0.5 M262 635.6 l0.6 0.6 M260.8 649.8 l-0.3 0.8 l-0.7 -0.1 M265.4 638.6 l1.7 0.9 l-0.8 0.7 M256.6 638 l0.1 1.1 l-0.8 -0.2 M261.7 635.1 l-2 0.2 M261.3 643.3 l-0.6 0.7 l-0.5 -0.6 M264.8 650 l0.4 1.3 l-1.3 0.9 M253 631.1 l1.7 0.5 M255.4 641.3 l-0.3 1.8 l-1.1 -0.1 M258.2 634.5 l1.1 0.7 M252.1 643.6 l0.5 0.8 l-1.3 0.5 M252.7 645.5 l-1.1 1.8 M253.5 652.3 l-1.6 0.2 M255.3 638.8 l1.4 1.4 l-0.1 1.4 M261.5 641.1 l-0.8 0.4 l-0.8 -0.6 M248.3 632 l1 1.8 M260.9 641 l1.5 1.5 M260.5 631.1 l1.6 1.2 M263.9 643.7 l0.4 1.6 M251.3 642.3 l1.2 1.4 l-1.2 0.9 M245 643.6 l-0.9 1.8 M250.2 639.4 l-2.1 0.3 l-0.5 -0.5 M245.1 640.3 l1.8 0.9 M247.3 642.4 l0.8 1.3 l-0.3 0.7 M252.8 646.1 l-0.1 0.9 M263.7 647.5 l-0.6 0.5 l-1.3 -0.3 M248.4 646.2 l1.2 1.3 l-0.1 1 M251.3 650.3 l0.9 1.2 M265.4 632.7 l-0.5 1.4 M265.8 637.3 l-0.9 1.2 M245.9 648.4 l-1.3 0.1 l0.2 -0.7 M246.2 632.1 l-1.6 1 l-0.4 -0.5 M258.7 640.2 l-0.1 1.3 l-0.6 0.3 M254 635.9 l-1.2 1.6 M254.5 635.7 l0.5 1.4 M265.7 632.4 l0.1 1.5 M264.1 647.6 l-0.7 1.7 M263.4 645.9 l-0.6 1 M253 644 l-1.8 1.1 M244.6 637.4 l0.8 1.1 l-0.5 0.4 M251.2 651.3 l-1 1 l-0.5 -1.2 M249 637.9 l-0.8 1.6 l-0.6 -0.7 M250.1 649.1 l1.6 0.8 l-0.4 0.8 M252.8 651.2 l0.1 1.4 M250.7 634.3 l0.4 1.1 l-0.6 -0 M262.3 651.1 l-0.5 0.7 M245.4 643.9 l-0.7 0.9 l-0.6 -0.3 M251.3 640.5 l-1.2 0.4 l-0.2 -1.4 M256.1 631.6 l1.1 0.8 M249.5 648.2 l-1.8 1 M244.9 643.3 l2 0.5 M261.2 634.6 l1.9 0.4 M258.1 640.9 l-1 0.7 l-0.7 -0.5 M258.3 650.1 l0.9 0.2 M259.4 634.7 l0.6 0.7 l-0.8 1 M258.9 634 l2 0.7 M253.5 645.7 l-1 1.2 l-0.5 -0.7 M245.4 638.3 l-0.2 1.7 l-1.1 -0.2 M248.1 649.2 l-1.7 1.2 M249.3 647.6 l-1.5 0.5 M265.8 639.1 l-2.1 0.4 M244.7 638.2 l-0.6 1.5 M258.7 634.1 l-1.5 0.3 M249.1 652.5 l-0.3 1.9 M263.9 638.5 l1.3 0.4 l-0.2 1.4 M252.5 633.4 l1.4 0.1 M245.1 645.1 l0.7 0.6 M256 650.2 l-0 1 l-1.2 0.3 M261.5 647 l-0.5 1 l-1.1 -0.2 M250.3 642.3 l0.1 0.8 M257.4 648.2 l-1.2 1.3 M252.8 639.2 l1.7 0 M257.2 652.4 l0.9 0.6 M262.4 641.1 l1.3 0.2 M255.5 640.7 l0.6 1.6 M259.7 649.5 l-0.9 0.9 l-0.8 -1.1 M264.9 634.9 l-1.8 0.9 l-1 -0.8 M247.7 648.8 l1.2 1.3 l-0.3 0.8 M255.4 646.2 l1.4 1.1 l-0.6 0.7 M248.8 633.6 l1.7 0.3 l0.6 1.3 M258.9 631 l-1.1 1.2 l-1.3 -0.8 M252.7 644.5 l-0.5 1.2 l-1 -0.7 M254.6 641.8 l1.5 1.2 l-0.7 0.8 M249.4 643.4 l-0.2 0.9 l-1.3 0.4 M251.7 637.7 l0.7 0.5 l-0.1 1.2 M263.1 635.4 l1.5 0.5 l-0.1 1.4 M249 645.9 l-0.1 0.9 l-0.7 -0 M249 643.2 l-1.3 0.8 M244.7 637.2 l1.1 1.7 l-0.6 0.2 M255.5 650.1 l-1.2 1.1 l-0.3 -0.6 M265.7 647.6 l-1 1.2 l-1.2 -0.4 M258.9 639.1 l-0.7 0.5 l-0.9 -0.3 M261.9 647.1 l1.1 0.6 l-0.5 0.9 M249.6 638.7 l-1.3 0.6 M258.3 640.9 l-0.2 1.3 l-0.9 0 M251.8 634.6 l-1.3 0.4 l-0.7 -0.4 M263.6 637.9 l-0.6 1 M254.4 646.7 l-0.1 1.3 l-1.4 -0 " fill="none" stroke="#222" stroke-width="1.15" />
<path d="M265.6 668.7 l2.2 0.2 l0.7 1.1 M252.1 686 l1.6 1.4 l-1 1.2 M259.6 686.7 l-0.5 0.7 M257.5 672.6 l1.6 1.1 M265.1 683.3 l-1.6 0.2 M258 671.4 l-1.2 0.2 M265.5 680.5 l1.8 0.8 M248.6 666.6 l-0.1 0.8 M255.6 677.4 l0.5 1.7 M251.3 674.1 l-0.3 1.2 M256.4 675.5 l-0.8 1.3 l-0.5 -0.8 M254 674.8 l-2.1 0.5 M253.3 667.7 l-1 0.3 M252.2 673.1 l0.5 1 l-1.2 0.8 M258.7 670.1 l-0.5 0.7 l-1 -1.1 M254.6 685 l0 1.5 M266.3 682.6 l0.2 1.8 M252.3 683.5 l-1.4 0.9 M244.9 677 l-0.5 1.2 l-0.9 -0.5 M250.4 666.5 l-1.3 0.1 l-0.5 -0.7 M263.6 669.7 l0.6 0.7 l-0.3 0.9 M260.7 686.8 l-0.7 0.4 l-0.2 -0.6 M249 676.8 l0.7 1.7 M254.7 671.2 l0.9 0.8 l-0.5 0.6 M264.1 680.4 l1.5 0.3 M245.4 676.7 l1.9 0.2 l-0.1 1.6 M263.1 670.9 l-0.1 1 l-1.3 -0.5 M244.7 674.2 l-0.4 0.9 M264.1 678.2 l0.8 1.8 M248.6 671.9 l1.7 0.9 M259.8 684.3 l-1.1 0.1 l0.3 -1.3 M253 680.6 l0.8 0.6 l-0.2 0.8 M255.9 687.8 l1.4 0.7 M257.7 677.6 l-0.6 0.6 M259.6 684.1 l-0.8 0.5 l-1 -0.5 M265.1 686.4 l0.5 1.6 M251.8 687.8 l-1.8 0.3 M262.1 680.5 l0.6 1 l-0.5 1.5 M251.1 666 l0.5 0.8 l-0.5 0.6 M255 675 l0.9 1.7 l-1.2 0.8 M265.6 674.1 l2.1 0.3 M249.3 668.4 l0.9 0.8 l-0.1 1.6 M262.5 668.1 l0.1 1.9 M246 673.3 l0.8 1.9 M254.6 680 l1.7 0.3 M259.3 673.8 l0.5 0.6 l-0.3 1 M261.6 670.5 l0.1 1.7 M245 686.7 l-0.3 1.2 l-1.5 -0.5 M251.9 674.7 l-0.2 1 l-1 -0.6 M262.6 671.5 l-1.7 0.8 l-0.7 -1.1 M257.1 679.3 l1.1 1.1 l-0.8 0.6 M266 678.9 l1 0.9 l-0.5 0.4 M257.8 672.6 l-0.7 0.6 M260.2 670.9 l1.2 0.5 M250.2 665.7 l0.4 1.9 l-1.1 -0.2 M248 667.8 l0.6 1.3 l-0.5 1 M250.1 675.7 l0.3 1.8 M249.5 669.6 l-0.8 0.4 l-1.3 -0.6 M256.4 686.7 l-0.5 1.2 l-0.7 -0.4 M262.2 674.9 l1.3 0.2 M247.7 686.3 l-1.5 0.3 M259.7 677.9 l1.9 1 M254.4 674.4 l1.6 0.4 M253.1 672.1 l-0.7 1.8 l-1.2 0.1 M245.4 684.3 l1.1 1.6 l-0.3 0.6 M247 671.5 l-1.4 1.3 M251.3 680.8 l-0.9 1 l-0.7 -0.4 M248.7 674.5 l2 0.5 l-0.7 1.1 M244.7 686.2 l-1.3 0.9 M255 666.1 l1.1 0.6 M262.7 668.2 l0.4 0.9 l-0.7 0.7 M247.8 680.6 l1.5 1.4 l-0.7 1.2 M252.1 671.4 l1.1 0.5 l-0.5 0.8 M260.1 671.8 l1.2 0.3 l-0.4 0.7 M249.2 669.1 l1.5 1.5 M249.5 666.6 l0.1 1.6 l-1.3 0.4 M244.5 682 l-1 1.6 l-1 -0.4 M247.5 677.3 l0.9 0.9 l-0.1 0.6 M256.4 670.9 l-0.3 1.5 l-1.1 0.5 M259.4 681.4 l-0 1.6 l-1.3 0.5 M252.8 667.9 l0.5 1.9 l-0.7 0.9 M263.7 674.5 l1.3 1.3 l-0.4 1.1 M263.2 685.3 l0.6 1 l-0.3 0.8 M261.4 688 l0.6 0.7 M265.8 683.8 l0.5 1.8 M260.9 676.8 l-1.9 0 l-0.2 -0.7 M252.7 684.3 l0.1 1.5 M246.4 673.6 l0.1 1.5 M265.1 683.9 l-0.3 1.7 M266.2 679.2 l-0.4 1.3 l-0.9 -0.4 M264.4 682.2 l-1.8 0.3 M252.6 665.9 l-0.9 1.6 M261.2 666.3 l-0.7 1 l-0.7 -0.8 M254.8 666.7 l0.9 0.6 l-0.3 0.6 M246.5 667.5 l-1.4 1.6 M255.8 668.5 l-0.8 0.6 l-1.1 -1 M251.3 685.4 l1.1 1.9 M263.5 688.1 l-0.9 0.6 M256.5 682.1 l1.2 1.1 l-0.2 1 M262.2 678.2 l0.5 1 l-0.6 0.6 " fill="none" stroke="#222" stroke-width="1.15" />
<path d="M267.8 655.8 L240.5 655.8 A3.4 3.4 0 0 0 240.5 662.6 L267.8 662.6 Z" fill="#fff" stroke="#1c1c1c" stroke-width="1.1" />
<path d="M267.8 655.8 L240.5 655.8 A3.4 3.4 0 0 0 240.5 662.6 L267.8 662.6 Z" fill="none" stroke="#444" stroke-width="2.2" stroke-dasharray="0.9 0.9" opacity="0.55"/>
<path d="M266.3 657.6 L240.6 657.6 A1.6 1.6 0 0 0 240.6 660.8 L266.3 660.8 Z" fill="#fff" stroke="#1c1c1c" stroke-width="0.9" />
<path d="M269 657.8 L273 657.8 M269 660.6 L273 660.6" fill="none" stroke="#1c1c1c" stroke-width="0.9" />
<ellipse cx="273.8" cy="659.2" rx="1.8" ry="4.1" fill="#1a1a1a" stroke="#1c1c1c" stroke-width="0.6"/>
<line x1="274" y1="651" x2="287.6" y2="651" stroke="#1c1c1c" stroke-width="1.1" />
<line x1="273.4" y1="648.9" x2="273.4" y2="654.9" stroke="#1c1c1c" stroke-width="1.1" />
<line x1="268.3" y1="648.5" x2="268.3" y2="652.5" stroke="#1c1c1c" stroke-width="1.4" />
<path d="M281.5 650.2 L277.5 651 L281.5 651.8 Z M267.8 651 L262.8 649.9 L262.8 652.1 Z" fill="#222" stroke="#1c1c1c" stroke-width="0.6" />
<!-- hands -->
<g transform="translate(0 0)">
<path d="M745.2 60.2 C746.1 57.8 748.5 56.5 751.3 56.6 C754.9 57 758 55.8 761.2 56.6 L775.4 63.1 C779 64.7 779.6 67.3 780.4 73.3 C781.4 81.2 783.4 88.3 786.1 93.1 L791.3 100.6" fill="none" stroke="#1c1c1c" stroke-width="1.05" />
<path d="M746.1 60.8 C747.3 59 749.3 58.6 751 59.2 M751.7 61.2 L753.7 60.8 M758.8 63.1 C759.6 62.2 760.4 61.8 761.2 61.5 M767.5 67.7 L770.7 69.5" fill="none" stroke="#1c1c1c" stroke-width="0.9" />
<path d="M743.8 70.5 C742.6 71.7 743.8 73.7 745.7 73.7 C747.7 73.7 749.3 72.1 748.1 70.7 M745.5 73.9 C750.1 79.6 754.1 87.5 758 93.9 C761.2 97.4 766.7 98.6 771.5 100.4" fill="none" stroke="#1c1c1c" stroke-width="1.05" />
<path d="M752.5 71.3 C754.1 74.1 757.2 76 761.2 77.9 L765.5 76 M763.2 77.2 L762.8 79.6 L766.7 82.8 M764.4 78.4 L766.7 79.4" fill="none" stroke="#1c1c1c" stroke-width="0.95" />
<path d="M730.5 58.9 L739 59.8 L779.4 76.1 L778.1 79.4 L737.4 63.3 Z" fill="#2a2a2a" stroke="#1c1c1c" stroke-width="0.9" />
<line x1="739.8" y1="61.2" x2="778.5" y2="77.1" stroke="#999" stroke-width="0.6" />
<line x1="739" y1="62.3" x2="777.8" y2="78.3" stroke="#777" stroke-width="0.5" />
</g>
<g transform="translate(-390.9 461.9)">
<path d="M745.2 60.2 C746.1 57.8 748.5 56.5 751.3 56.6 C754.9 57 758 55.8 761.2 56.6 L775.4 63.1 C779 64.7 779.6 67.3 780.4 73.3 C781.4 81.2 783.4 88.3 786.1 93.1 L791.3 100.6" fill="none" stroke="#1c1c1c" stroke-width="1.05" />
<path d="M746.1 60.8 C747.3 59 749.3 58.6 751 59.2 M751.7 61.2 L753.7 60.8 M758.8 63.1 C759.6 62.2 760.4 61.8 761.2 61.5 M767.5 67.7 L770.7 69.5" fill="none" stroke="#1c1c1c" stroke-width="0.9" />
<path d="M743.8 70.5 C742.6 71.7 743.8 73.7 745.7 73.7 C747.7 73.7 749.3 72.1 748.1 70.7 M745.5 73.9 C750.1 79.6 754.1 87.5 758 93.9 C761.2 97.4 766.7 98.6 771.5 100.4" fill="none" stroke="#1c1c1c" stroke-width="1.05" />
<path d="M752.5 71.3 C754.1 74.1 757.2 76 761.2 77.9 L765.5 76 M763.2 77.2 L762.8 79.6 L766.7 82.8 M764.4 78.4 L766.7 79.4" fill="none" stroke="#1c1c1c" stroke-width="0.95" />
<path d="M730.5 58.9 L739 59.8 L779.4 76.1 L778.1 79.4 L737.4 63.3 Z" fill="#2a2a2a" stroke="#1c1c1c" stroke-width="0.9" />
<line x1="739.8" y1="61.2" x2="778.5" y2="77.1" stroke="#999" stroke-width="0.6" />
<line x1="739" y1="62.3" x2="777.8" y2="78.3" stroke="#777" stroke-width="0.5" />
</g>
<!-- detail box -->
<path d="M651.6 672.2 L652.1 555.4 L798.2 557.1 L797.6 774.3 L651.2 773.1 L651.4 694.2 L640 694 Z" fill="#fff" stroke="#1c1c1c" stroke-width="1.2" />
<path d="M668.1 659.8 Q653.7 649.9 665.6 640.2 L704.6 608.3 Q716.5 598.6 730.9 608.5 L777.8 640.6 Q792.2 650.5 780.3 660.2 L741.3 692.1 Q729.4 701.8 715 691.9 Z" fill="#fff" stroke="#1c1c1c" stroke-width="1.4" />
<path d="M668.1 656.2 Q653.7 646.3 665.6 636.6 L704.6 604.7 Q716.5 595 730.9 604.9 L777.8 637 Q792.2 646.9 780.3 656.6 L741.3 688.5 Q729.4 698.2 715 688.3 Z" fill="#fff" stroke="#1c1c1c" stroke-width="1.4" />
<path d="M671 655.4 Q658.5 646.8 668.9 638.4 L706.6 607.6 Q717 599.1 729.4 607.7 L774.9 638.8 Q787.4 647.4 777 655.8 L739.3 686.6 Q728.9 695.1 716.5 686.5 Z" fill="none" stroke="#1c1c1c" stroke-width="1.0" />
<line x1="666.8" y1="654.1" x2="666.8" y2="657.2" stroke="#1c1c1c" stroke-width="1.0" />
<line x1="718.2" y1="689.4" x2="718.2" y2="692.5" stroke="#1c1c1c" stroke-width="1.0" />
<line x1="738.7" y1="689.8" x2="738.7" y2="692.9" stroke="#1c1c1c" stroke-width="1.0" />
<line x1="781.4" y1="654.9" x2="781.4" y2="658" stroke="#1c1c1c" stroke-width="1.0" />
<line x1="779.5" y1="639.4" x2="779.5" y2="642.5" stroke="#1c1c1c" stroke-width="1.0" />
<line x1="760.4" y1="672.6" x2="760.4" y2="675.7" stroke="#1c1c1c" stroke-width="1.0" />
<line x1="691.9" y1="672.3" x2="691.9" y2="675.4" stroke="#1c1c1c" stroke-width="1.0" />
<line x1="754" y1="621.5" x2="754" y2="624.6" stroke="#1c1c1c" stroke-width="1.0" />
<path d="M678.7 654.9 Q669.6 648.7 677.2 642.5 L710.4 615.3 Q718 609.2 727.1 615.4 L767.2 642.9 Q776.3 649.1 768.7 655.3 L735.5 682.5 Q727.9 688.6 718.8 682.4 Z" fill="#fff" stroke="#1c1c1c" stroke-width="1.1" />
<path d="M680.7 653.1 Q673.1 647.9 679.4 642.8 L712 616.1 Q718.3 610.9 725.9 616.1 L765.2 643.1 Q772.8 648.3 766.5 653.4 L733.9 680.1 Q727.6 685.3 720 680.1 Z" fill="#fff" stroke="#1c1c1c" stroke-width="1.2" />
<path d="M680.7 643.6 Q673.1 638.4 679.4 633.3 L712 606.6 Q718.3 601.4 725.9 606.6 L765.2 633.6 Q772.8 638.8 766.5 643.9 L733.9 670.6 Q727.6 675.8 720 670.6 Z" fill="#fff" stroke="#1c1c1c" stroke-width="1.4" />
<line x1="679.9" y1="643.1" x2="679.9" y2="652.6" stroke="#1c1c1c" stroke-width="1.0" />
<line x1="720.8" y1="671.1" x2="720.8" y2="680.6" stroke="#1c1c1c" stroke-width="1.0" />
<line x1="733.2" y1="671.1" x2="733.2" y2="680.6" stroke="#1c1c1c" stroke-width="1.0" />
<line x1="767.2" y1="643.4" x2="767.2" y2="652.9" stroke="#1c1c1c" stroke-width="1.0" />
<line x1="766" y1="634.1" x2="766" y2="643.6" stroke="#1c1c1c" stroke-width="1.0" />
<line x1="696.6" y1="655.5" x2="696.6" y2="663.5" stroke="#1c1c1c" stroke-width="1.0" />
<line x1="704.1" y1="660.7" x2="704.1" y2="668.7" stroke="#1c1c1c" stroke-width="1.0" />
<line x1="750.2" y1="658.3" x2="750.2" y2="666.3" stroke="#1c1c1c" stroke-width="1.0" />
<line x1="754" y1="655.2" x2="754" y2="663.2" stroke="#1c1c1c" stroke-width="1.0" />
<line x1="756.5" y1="653.2" x2="756.5" y2="661.2" stroke="#1c1c1c" stroke-width="1.0" />
<path d="M685.2 649.7 L715.5 670.4" fill="none" stroke="#1c1c1c" stroke-width="0.9" />
<path d="M737.6 670.5 L762.8 650" fill="none" stroke="#1c1c1c" stroke-width="0.9" />
<path d="M682.5 642 Q677.2 638.4 681.6 634.8 L714.3 608.1 Q718.7 604.5 724 608.2 L763.4 635.2 Q768.7 638.8 764.3 642.4 L731.6 669.1 Q727.2 672.7 721.9 669 Z" fill="#fff" stroke="#1c1c1c" stroke-width="1.2" />
<clipPath id="clipU"><path d="M682.5 642 Q677.2 638.4 681.6 634.8 L714.3 608.1 Q718.7 604.5 724 608.2 L763.4 635.2 Q768.7 638.8 764.3 642.4 L731.6 669.1 Q727.2 672.7 721.9 669 Z"/></clipPath>
<g clip-path="url(#clipU)">
<path d="M677.2 646.4 L718.7 612.5 L768.7 646.8" fill="none" stroke="#1c1c1c" stroke-width="1.2" />
<path d="M677.2 640.9 L718.7 607 L768.7 641.3" fill="none" stroke="#1c1c1c" stroke-width="0.9" />
<line x1="718.7" y1="604.5" x2="718.7" y2="612.5" stroke="#1c1c1c" stroke-width="1.0" />
<path d="M691.5 640.4 L701.5 632.2 L743.1 660.7 L743.1 664.2 L733.1 672.4 L691.5 643.9 Z" fill="#fff" stroke="#1c1c1c" stroke-width="1.35" />
<path d="M691.5 640.4 L733.1 668.9 L743.1 660.7" fill="none" stroke="#1c1c1c" stroke-width="1.35" />
<line x1="733.1" y1="668.9" x2="733.1" y2="672.4" stroke="#1c1c1c" stroke-width="1.35" />
<path d="M691.5 638.9 L701.5 630.7 L713.6 639 L713.6 644 L703.6 652.2 L691.5 643.9 Z" fill="#fff" stroke="#1c1c1c" stroke-width="1.35" />
<path d="M691.5 638.9 L703.6 647.2 L713.6 639" fill="none" stroke="#1c1c1c" stroke-width="1.35" />
<line x1="703.6" y1="647.2" x2="703.6" y2="652.2" stroke="#1c1c1c" stroke-width="1.35" />
<path d="M724.8 639.1 L734.9 630.9 L759.1 647.5 L759.1 653.5 L749.1 661.7 L724.8 645.1 Z" fill="#fff" stroke="#1c1c1c" stroke-width="1.35" />
<path d="M724.8 639.1 L749.1 655.7 L759.1 647.5" fill="none" stroke="#1c1c1c" stroke-width="1.35" />
<line x1="749.1" y1="655.7" x2="749.1" y2="661.7" stroke="#1c1c1c" stroke-width="1.35" />
<path d="M722.5 660.7 L732.6 652.5 L743.1 659.7 L743.1 664.2 L733.1 672.4 L722.5 665.2 Z" fill="#fff" stroke="#1c1c1c" stroke-width="1.35" />
<path d="M722.5 660.7 L733.1 667.9 L743.1 659.7" fill="none" stroke="#1c1c1c" stroke-width="1.35" />
<line x1="733.1" y1="667.9" x2="733.1" y2="672.4" stroke="#1c1c1c" stroke-width="1.35" />
<path d="M710.9 646.1 L717.7 650.8" fill="none" stroke="#1c1c1c" stroke-width="2.4" />
<path d="M720 652.4 L726 656.5" fill="none" stroke="#1c1c1c" stroke-width="2.4" />
<path d="M719.2 642 C719.6 632.8 726.4 631.8 730.5 635.4" fill="none" stroke="#1c1c1c" stroke-width="1.2" />
<path d="M722.6 641.5 C723.3 635.3 727.5 634.4 729.7 637.2" fill="none" stroke="#1c1c1c" stroke-width="1.2" />
<circle cx="721.6" cy="624.4" r="1.2" fill="#222" stroke="#1c1c1c" stroke-width="0.6"/>
</g>
<path d="M730 612.3 l0 3.4 q1.1 1.2 2.2 0 l0 -1.7" fill="none" stroke="#1c1c1c" stroke-width="1.1" />
<path d="M749.7 625.8 l0 3.4 q1.1 1.2 2.2 0 l0 -1.7" fill="none" stroke="#1c1c1c" stroke-width="1.1" />
<path d="M717.4 665.9 l0 3.4 q1.1 1.2 2.2 0 l0 -1.7" fill="none" stroke="#1c1c1c" stroke-width="1.1" />
<path d="M745.2 661.4 l0 3.2 l2 0" fill="none" stroke="#1c1c1c" stroke-width="1.1" />
<path d="M704.5 634 C703 621 716 606 727.5 596" fill="none" stroke="#222" stroke-width="3.4" />
<path d="M704.5 634 C703 621 716 606 727.5 596" fill="none" stroke="#fff" stroke-width="1.1" />
<path d="M729 594.4 C742 590 756 588.2 770.4 586.2" fill="none" stroke="#222" stroke-width="3.4" />
<path d="M729 594.4 C742 590 756 588.2 770.4 586.2" fill="none" stroke="#fff" stroke-width="1.1" />
<line x1="770.4" y1="584" x2="771" y2="588.6" stroke="#1c1c1c" stroke-width="1.0" />
<ellipse cx="728" cy="594.6" rx="2.2" ry="2.9" fill="#fff" stroke="#1c1c1c" stroke-width="1.0" transform="rotate(-30 728 594.6)"/>
<line x1="727.5" y1="593" x2="727.5" y2="573.6" stroke="#1c1c1c" stroke-width="1.0" />
<path d="M727.5 573.6 L729.1 579.6 L725.9 579.6 Z" fill="#1c1c1c" stroke="#1c1c1c" stroke-width="0.4"/>
<path d="M724.5 596.5 C710 588 688 594 682.4 617.5" fill="none" stroke="#1c1c1c" stroke-width="1.0" />
<path d="M682.2 619.3 L681.9 612.6 L685.2 613.3 Z" fill="#1c1c1c" stroke="#1c1c1c" stroke-width="0.4"/>
<path d="M677.3 750.2 Q667.3 746.9 673.9 742.3 L711.6 716.1 Q718.2 711.5 728.2 714.8 L784.9 733.7 Q794.9 737 788.3 741.6 L750.6 767.8 Q744 772.4 734 769.1 Z" fill="#fff" stroke="#1c1c1c" stroke-width="1.4" />
<path d="M677.3 743.2 Q667.3 739.9 673.9 735.3 L711.6 709.1 Q718.2 704.5 728.2 707.8 L784.9 726.7 Q794.9 730 788.3 734.6 L750.6 760.8 Q744 765.4 734 762.1 Z" fill="#fff" stroke="#1c1c1c" stroke-width="1.4" />
<path d="M679.8 742.7 Q671.8 740.1 677.1 736.3 L713.8 710.8 Q719.1 707.1 727.2 709.8 L782.4 728.2 Q790.4 730.8 785.1 734.6 L748.4 760.1 Q743.1 763.8 735 761.1 Z" fill="none" stroke="#1c1c1c" stroke-width="1.0" />
<line x1="680.3" y1="743.7" x2="680.3" y2="750.2" stroke="#1c1c1c" stroke-width="1.0" />
<line x1="732.5" y1="761.1" x2="732.5" y2="767.6" stroke="#1c1c1c" stroke-width="1.0" />
<line x1="751.4" y1="759.8" x2="751.4" y2="766.3" stroke="#1c1c1c" stroke-width="1.0" />
<line x1="786" y1="735.7" x2="786" y2="742.2" stroke="#1c1c1c" stroke-width="1.0" />
<line x1="782.1" y1="726.6" x2="782.1" y2="733.1" stroke="#1c1c1c" stroke-width="1.0" />
<line x1="769.1" y1="747.9" x2="769.1" y2="754.4" stroke="#1c1c1c" stroke-width="1.0" />
<line x1="705.9" y1="752.8" x2="705.9" y2="759.3" stroke="#1c1c1c" stroke-width="1.0" />
<line x1="756.3" y1="717.7" x2="756.3" y2="724.2" stroke="#1c1c1c" stroke-width="1.0" />
<path d="M687.9 747.1 Q679.4 744.3 685 740.4 L715.1 719.5 Q720.7 715.6 729.1 718.4 L774.3 733.4 Q782.8 736.2 777.2 740.1 L747.1 761 Q741.5 764.9 733.1 762.1 Z" fill="#fff" stroke="#1c1c1c" stroke-width="1.1" />
<path d="M689.5 745.5 Q682.6 743.2 687.2 740 L716.7 719.5 Q721.3 716.3 728.2 718.6 L772.7 733.4 Q779.6 735.7 775 738.9 L745.5 759.4 Q740.9 762.6 734 760.3 Z" fill="#fff" stroke="#1c1c1c" stroke-width="1.2" />
<path d="M689.5 735 Q682.6 732.7 687.2 729.5 L716.7 709 Q721.3 705.8 728.2 708.1 L772.7 722.9 Q779.6 725.2 775 728.4 L745.5 748.9 Q740.9 752.1 734 749.8 Z" fill="#fff" stroke="#1c1c1c" stroke-width="1.4" />
<line x1="688.8" y1="734.8" x2="688.8" y2="745.3" stroke="#1c1c1c" stroke-width="1.0" />
<line x1="734.7" y1="750" x2="734.7" y2="760.5" stroke="#1c1c1c" stroke-width="1.0" />
<line x1="745" y1="749.2" x2="745" y2="759.7" stroke="#1c1c1c" stroke-width="1.0" />
<line x1="775.5" y1="728.1" x2="775.5" y2="738.6" stroke="#1c1c1c" stroke-width="1.0" />
<line x1="773.4" y1="723.1" x2="773.4" y2="733.6" stroke="#1c1c1c" stroke-width="1.0" />
<line x1="707.9" y1="742.1" x2="707.9" y2="751.1" stroke="#1c1c1c" stroke-width="1.0" />
<line x1="715.6" y1="744.7" x2="715.6" y2="753.7" stroke="#1c1c1c" stroke-width="1.0" />
<line x1="760.2" y1="739.6" x2="760.2" y2="748.6" stroke="#1c1c1c" stroke-width="1.0" />
<line x1="763.3" y1="737.5" x2="763.3" y2="746.5" stroke="#1c1c1c" stroke-width="1.0" />
<line x1="765.3" y1="736.1" x2="765.3" y2="745.1" stroke="#1c1c1c" stroke-width="1.0" />
<path d="M696.4 740.3 L727.1 750.5" fill="none" stroke="#1c1c1c" stroke-width="0.9" />
<path d="M750.1 748.7 L770.4 734.6" fill="none" stroke="#1c1c1c" stroke-width="0.9" />
<path d="M691 733.9 Q686.4 732.4 689.5 730.3 L719 709.8 Q722.1 707.6 726.7 709.2 L771.2 724 Q775.8 725.5 772.7 727.6 L743.2 748.1 Q740.1 750.3 735.5 748.7 Z" fill="#fff" stroke="#1c1c1c" stroke-width="1.2" />
<clipPath id="clipL"><path d="M691 733.9 Q686.4 732.4 689.5 730.3 L719 709.8 Q722.1 707.6 726.7 709.2 L771.2 724 Q775.8 725.5 772.7 727.6 L743.2 748.1 Q740.1 750.3 735.5 748.7 Z"/></clipPath>
<g clip-path="url(#clipL)">
<path d="M686.4 741.4 L722.1 716.6 L775.8 734.5" fill="none" stroke="#1c1c1c" stroke-width="1.2" />
<path d="M686.4 734.9 L722.1 710.1 L775.8 728" fill="none" stroke="#1c1c1c" stroke-width="0.9" />
<line x1="722.1" y1="707.6" x2="722.1" y2="716.6" stroke="#1c1c1c" stroke-width="1.0" />
<path d="M701.7 736.2 L709.9 730.5 L750.5 744 L750.5 746.5 L742.4 752.2 L701.7 738.7 Z" fill="#fff" stroke="#1c1c1c" stroke-width="1.35" />
<path d="M701.7 736.2 L742.4 749.7 L750.5 744" fill="none" stroke="#1c1c1c" stroke-width="1.35" />
<line x1="742.4" y1="749.7" x2="742.4" y2="752.2" stroke="#1c1c1c" stroke-width="1.35" />
<path d="M731.6 732.5 L739.7 726.9 L765.8 735.5 L765.8 739 L757.7 744.7 L731.6 736 Z" fill="#fff" stroke="#1c1c1c" stroke-width="1.35" />
<path d="M731.6 732.5 L757.7 741.2 L765.8 735.5" fill="none" stroke="#1c1c1c" stroke-width="1.35" />
<line x1="757.7" y1="741.2" x2="757.7" y2="744.7" stroke="#1c1c1c" stroke-width="1.35" />
<path d="M717.3 737.1 L725.8 740" fill="none" stroke="#1c1c1c" stroke-width="2.0" />
<path d="M728.8 741 L735.7 743.3" fill="none" stroke="#1c1c1c" stroke-width="2.0" />
<path d="M726.5 735.4 C727 728.4 733.1 727.2 737.5 729.2" fill="none" stroke="#1c1c1c" stroke-width="1.2" />
</g>
<path d="M735.1 712 l0 3.4 q1.1 1.2 2.2 0 l0 -1.7" fill="none" stroke="#1c1c1c" stroke-width="1.1" />
<path d="M755.1 718.6 l0 3.4 q1.1 1.2 2.2 0 l0 -1.7" fill="none" stroke="#1c1c1c" stroke-width="1.1" />
<path d="M728.6 746.4 l0 3.4 q1.1 1.2 2.2 0 l0 -1.7" fill="none" stroke="#1c1c1c" stroke-width="1.1" />
<path d="M756.2 741.5 l0 3.2 l2 0" fill="none" stroke="#1c1c1c" stroke-width="1.1" />
<path d="M688.5 711.5 C678 716 668 723 659.5 731" fill="none" stroke="#222" stroke-width="3.4" />
<path d="M688.5 711.5 C678 716 668 723 659.5 731" fill="none" stroke="#fff" stroke-width="1.1" />
<line x1="657.3" y1="729.8" x2="660.8" y2="734.5" stroke="#1c1c1c" stroke-width="1.0" />
<path d="M690.5 709.5 C697 708 703 711 706.5 716 C710 721 711 728 713 733" fill="none" stroke="#1c1c1c" stroke-width="1.1" />
<path d="M689 713 L689 736 M691.5 712.5 L691.5 738" fill="none" stroke="#1c1c1c" stroke-width="0.9" />
<path d="M689 733 q1.5 5 3.5 0" fill="none" stroke="#1c1c1c" stroke-width="0.9" />
<ellipse cx="689.3" cy="710.4" rx="2.2" ry="2.6" fill="#fff" stroke="#1c1c1c" stroke-width="1.1" transform="rotate(20 689.3 710.4)"/>
<circle cx="699.8" cy="721.2" r="8.6" fill="#fff" stroke="#1c1c1c" stroke-width="1.1"/>
<!-- circled numbers -->
<circle cx="387.8" cy="24.3" r="9.3" fill="none" stroke="#1c1c1c" stroke-width="1.25"/>
<circle cx="463.7" cy="25" r="9.3" fill="none" stroke="#1c1c1c" stroke-width="1.25"/>
<circle cx="373" cy="67.7" r="9.3" fill="none" stroke="#1c1c1c" stroke-width="1.25"/>
<circle cx="319.2" cy="81.7" r="9.3" fill="none" stroke="#1c1c1c" stroke-width="1.25"/>
<circle cx="576.6" cy="153.9" r="9.3" fill="none" stroke="#1c1c1c" stroke-width="1.25"/>
<circle cx="646.5" cy="199.6" r="9.3" fill="none" stroke="#1c1c1c" stroke-width="1.25"/>
<circle cx="359.6" cy="253.5" r="9.3" fill="none" stroke="#1c1c1c" stroke-width="1.25"/>
<circle cx="236.8" cy="330.7" r="9.3" fill="none" stroke="#1c1c1c" stroke-width="1.25"/>
<circle cx="327.8" cy="449.6" r="9.3" fill="none" stroke="#1c1c1c" stroke-width="1.25"/>
<circle cx="471.3" cy="584.8" r="9.3" fill="none" stroke="#1c1c1c" stroke-width="1.25"/>
<circle cx="545.5" cy="585.3" r="9.3" fill="none" stroke="#1c1c1c" stroke-width="1.25"/>
<circle cx="568.7" cy="626.7" r="9.3" fill="none" stroke="#1c1c1c" stroke-width="1.25"/>
<circle cx="628.5" cy="636.8" r="9.3" fill="none" stroke="#1c1c1c" stroke-width="1.25"/>
<circle cx="415.8" cy="670.5" r="9.3" fill="none" stroke="#1c1c1c" stroke-width="1.25"/>
<circle cx="314" cy="736.5" r="9.3" fill="none" stroke="#1c1c1c" stroke-width="1.25"/>
<circle cx="740.2" cy="571.6" r="9.3" fill="none" stroke="#1c1c1c" stroke-width="1.25"/>
<circle cx="677" cy="598.5" r="9.3" fill="none" stroke="#1c1c1c" stroke-width="1.25"/>
<circle cx="571.8" cy="805.5" r="9.3" fill="none" stroke="#1c1c1c" stroke-width="1.25"/>
<circle cx="689.5" cy="883" r="9.3" fill="none" stroke="#1c1c1c" stroke-width="1.25"/>
<circle cx="600.5" cy="996.2" r="9.3" fill="none" stroke="#1c1c1c" stroke-width="1.25"/>
<g filter="url(#gs)">
<text x="165.5" y="39.6" font-family="'Liberation Serif', serif" font-size="25" font-weight="normal" text-anchor="middle" fill="#1c1c1c" textLength="24.5" lengthAdjust="spacingAndGlyphs" >B1</text>
<text x="170.4" y="486.4" font-family="'Liberation Serif', serif" font-size="25" font-weight="normal" text-anchor="middle" fill="#1c1c1c" textLength="24" lengthAdjust="spacingAndGlyphs" >B2</text>
<text x="623.6" y="40" font-family="'Liberation Serif', serif" font-size="21" font-weight="normal" text-anchor="start" fill="#1c1c1c" textLength="33.5" lengthAdjust="spacingAndGlyphs" >566.</text>
<text x="663.4" y="40" font-family="'Liberation Serif', serif" font-size="21" font-weight="normal" text-anchor="start" fill="#1c1c1c" textLength="9.6" lengthAdjust="spacingAndGlyphs" >5</text>
<text x="385.7" y="494.2" font-family="'Liberation Serif', serif" font-size="21" font-weight="normal" text-anchor="start" fill="#1c1c1c" textLength="33.5" lengthAdjust="spacingAndGlyphs" >566.</text>
<text x="424.2" y="494.2" font-family="'Liberation Serif', serif" font-size="21" font-weight="normal" text-anchor="start" fill="#1c1c1c" textLength="9.6" lengthAdjust="spacingAndGlyphs" >5</text>
<text x="637.6" y="322.8" font-family="'Liberation Serif', serif" font-size="11.5" font-weight="bold" text-anchor="middle" fill="#fff" stroke="#222" stroke-width="0.7" textLength="17" lengthAdjust="spacingAndGlyphs">KG</text>
<text x="300.3" y="866.1" font-family="'Liberation Serif', serif" font-size="11.5" font-weight="bold" text-anchor="middle" fill="#fff" stroke="#222" stroke-width="0.7" textLength="17" lengthAdjust="spacingAndGlyphs">KG</text>
<text x="595.5" y="357.5" font-family="'Liberation Sans', sans-serif" font-size="24" fill="#111" stroke="#111" stroke-width="1.7" textLength="12.3" lengthAdjust="spacingAndGlyphs">M</text>
<text x="608.9" y="357.5" font-family="'Liberation Sans', sans-serif" font-size="24" fill="#111" stroke="#111" stroke-width="1.0" textLength="11.4" lengthAdjust="spacingAndGlyphs">a</text>
<text x="621.8" y="357.5" font-family="'Liberation Sans', sans-serif" font-size="24" fill="#111" stroke="#111" stroke-width="1.1" textLength="10.6" lengthAdjust="spacingAndGlyphs">x</text>
<text x="634.1" y="357.5" font-family="'Liberation Sans', sans-serif" font-size="24" fill="#111" stroke="#111" stroke-width="1.0" textLength="5.5" lengthAdjust="spacingAndGlyphs">.</text>
<text x="645.8" y="357.5" font-family="'Liberation Sans', sans-serif" font-size="24" fill="#111" stroke="#111" stroke-width="0.7" textLength="12.8" lengthAdjust="spacingAndGlyphs">5</text>
<text x="660" y="357.5" font-family="'Liberation Sans', sans-serif" font-size="24" fill="#111" stroke="#111" stroke-width="0.9" textLength="11.3" lengthAdjust="spacingAndGlyphs">k</text>
<text x="671.3" y="357.5" font-family="'Liberation Sans', sans-serif" font-size="24" fill="#111" stroke="#111" stroke-width="0.7" textLength="12.2" lengthAdjust="spacingAndGlyphs">g</text>
<text x="257.8" y="900" font-family="'Liberation Sans', sans-serif" font-size="24" fill="#111" stroke="#111" stroke-width="1.7" textLength="12.3" lengthAdjust="spacingAndGlyphs">M</text>
<text x="271.2" y="900" font-family="'Liberation Sans', sans-serif" font-size="24" fill="#111" stroke="#111" stroke-width="1.0" textLength="11.4" lengthAdjust="spacingAndGlyphs">a</text>
<text x="284.1" y="900" font-family="'Liberation Sans', sans-serif" font-size="24" fill="#111" stroke="#111" stroke-width="1.1" textLength="10.6" lengthAdjust="spacingAndGlyphs">x</text>
<text x="296.4" y="900" font-family="'Liberation Sans', sans-serif" font-size="24" fill="#111" stroke="#111" stroke-width="1.0" textLength="5.5" lengthAdjust="spacingAndGlyphs">.</text>
<text x="308.1" y="900" font-family="'Liberation Sans', sans-serif" font-size="24" fill="#111" stroke="#111" stroke-width="0.7" textLength="12.8" lengthAdjust="spacingAndGlyphs">5</text>
<text x="322.3" y="900" font-family="'Liberation Sans', sans-serif" font-size="24" fill="#111" stroke="#111" stroke-width="0.9" textLength="11.3" lengthAdjust="spacingAndGlyphs">k</text>
<text x="333.6" y="900" font-family="'Liberation Sans', sans-serif" font-size="24" fill="#111" stroke="#111" stroke-width="0.7" textLength="12.2" lengthAdjust="spacingAndGlyphs">g</text>
<text x="262" y="267" font-family="'Liberation Serif', serif" font-size="13" font-weight="normal" text-anchor="start" fill="#1c1c1c" textLength="15.5" lengthAdjust="spacingAndGlyphs" >I/0</text>
<text x="648.5" y="820.6" font-family="'Liberation Serif', serif" font-size="13" font-weight="normal" text-anchor="start" fill="#1c1c1c" textLength="15" lengthAdjust="spacingAndGlyphs" >I/0</text>
<text x="254.1" y="341.6" font-family="'Liberation Sans', serif" font-size="8" font-weight="normal" text-anchor="middle" fill="#1c1c1c" >a</text>
<text x="239.8" y="352.3" font-family="'Liberation Sans', serif" font-size="8" font-weight="normal" text-anchor="middle" fill="#1c1c1c" >b</text>
<text x="672.7" y="892.3" font-family="'Liberation Sans', serif" font-size="8" font-weight="normal" text-anchor="middle" fill="#1c1c1c" >a</text>
<text x="686.5" y="903.6" font-family="'Liberation Sans', serif" font-size="8" font-weight="normal" text-anchor="middle" fill="#1c1c1c" >b</text>
<text x="727.9" y="209.9" font-family="'Liberation Sans', sans-serif" font-size="9.3" fill="#222" textLength="14.5" lengthAdjust="spacingAndGlyphs">3MM</text>
<text x="287.8" y="654.9" font-family="'Liberation Sans', sans-serif" font-size="9.3" fill="#222" textLength="14.5" lengthAdjust="spacingAndGlyphs">3MM</text>
<text x="699.8" y="726.7" font-family="'Liberation Serif', serif" font-size="16.5" font-weight="normal" text-anchor="middle" fill="#1c1c1c" >7</text>
<text x="387.8" y="30.2" font-family="'Liberation Serif', serif" font-size="17.5" font-weight="normal" text-anchor="middle" fill="#1c1c1c" >1</text>
<text x="463.7" y="30.9" font-family="'Liberation Serif', serif" font-size="17.5" font-weight="normal" text-anchor="middle" fill="#1c1c1c" >6</text>
<text x="373" y="73.6" font-family="'Liberation Serif', serif" font-size="17.5" font-weight="normal" text-anchor="middle" fill="#1c1c1c" >4</text>
<text x="319.2" y="87.6" font-family="'Liberation Serif', serif" font-size="17.5" font-weight="normal" text-anchor="middle" fill="#1c1c1c" >5</text>
<text x="576.6" y="159.8" font-family="'Liberation Serif', serif" font-size="17.5" font-weight="normal" text-anchor="middle" fill="#1c1c1c" >3</text>
<text x="646.5" y="205.5" font-family="'Liberation Serif', serif" font-size="17.5" font-weight="normal" text-anchor="middle" fill="#1c1c1c" >2</text>
<text x="359.6" y="259.4" font-family="'Liberation Serif', serif" font-size="17.5" font-weight="normal" text-anchor="middle" fill="#1c1c1c" >8</text>
<text x="236.8" y="336.6" font-family="'Liberation Serif', serif" font-size="17.5" font-weight="normal" text-anchor="middle" fill="#1c1c1c" >7</text>
<text x="327.8" y="455.5" font-family="'Liberation Serif', serif" font-size="17.5" font-weight="normal" text-anchor="middle" fill="#1c1c1c" >9</text>
<text x="471.3" y="590.7" font-family="'Liberation Serif', serif" font-size="17.5" font-weight="normal" text-anchor="middle" fill="#1c1c1c" >1</text>
<text x="545.5" y="591.2" font-family="'Liberation Serif', serif" font-size="17.5" font-weight="normal" text-anchor="middle" fill="#1c1c1c" >9</text>
<text x="568.7" y="632.6" font-family="'Liberation Serif', serif" font-size="17.5" font-weight="normal" text-anchor="middle" fill="#1c1c1c" >4</text>
<text x="628.5" y="642.7" font-family="'Liberation Serif', serif" font-size="17.5" font-weight="normal" text-anchor="middle" fill="#1c1c1c" >8</text>
<text x="415.8" y="676.4" font-family="'Liberation Serif', serif" font-size="17.5" font-weight="normal" text-anchor="middle" fill="#1c1c1c" >3</text>
<text x="314" y="742.4" font-family="'Liberation Serif', serif" font-size="17.5" font-weight="normal" text-anchor="middle" fill="#1c1c1c" >2</text>
<text x="740.2" y="577.5" font-family="'Liberation Serif', serif" font-size="17.5" font-weight="normal" text-anchor="middle" fill="#1c1c1c" >5</text>
<text x="677" y="604.4" font-family="'Liberation Serif', serif" font-size="17.5" font-weight="normal" text-anchor="middle" fill="#1c1c1c" >6</text>
<text x="571.8" y="811.4" font-family="'Liberation Serif', serif" font-size="17.5" font-weight="normal" text-anchor="middle" fill="#1c1c1c" textLength="13" lengthAdjust="spacingAndGlyphs" >11</text>
<text x="689.5" y="888.9" font-family="'Liberation Serif', serif" font-size="17.5" font-weight="normal" text-anchor="middle" fill="#1c1c1c" textLength="13" lengthAdjust="spacingAndGlyphs" >10</text>
<text x="600.5" y="1002.1" font-family="'Liberation Serif', serif" font-size="17.5" font-weight="normal" text-anchor="middle" fill="#1c1c1c" textLength="13" lengthAdjust="spacingAndGlyphs" >12</text>
</g>
</svg>
</body></html>
